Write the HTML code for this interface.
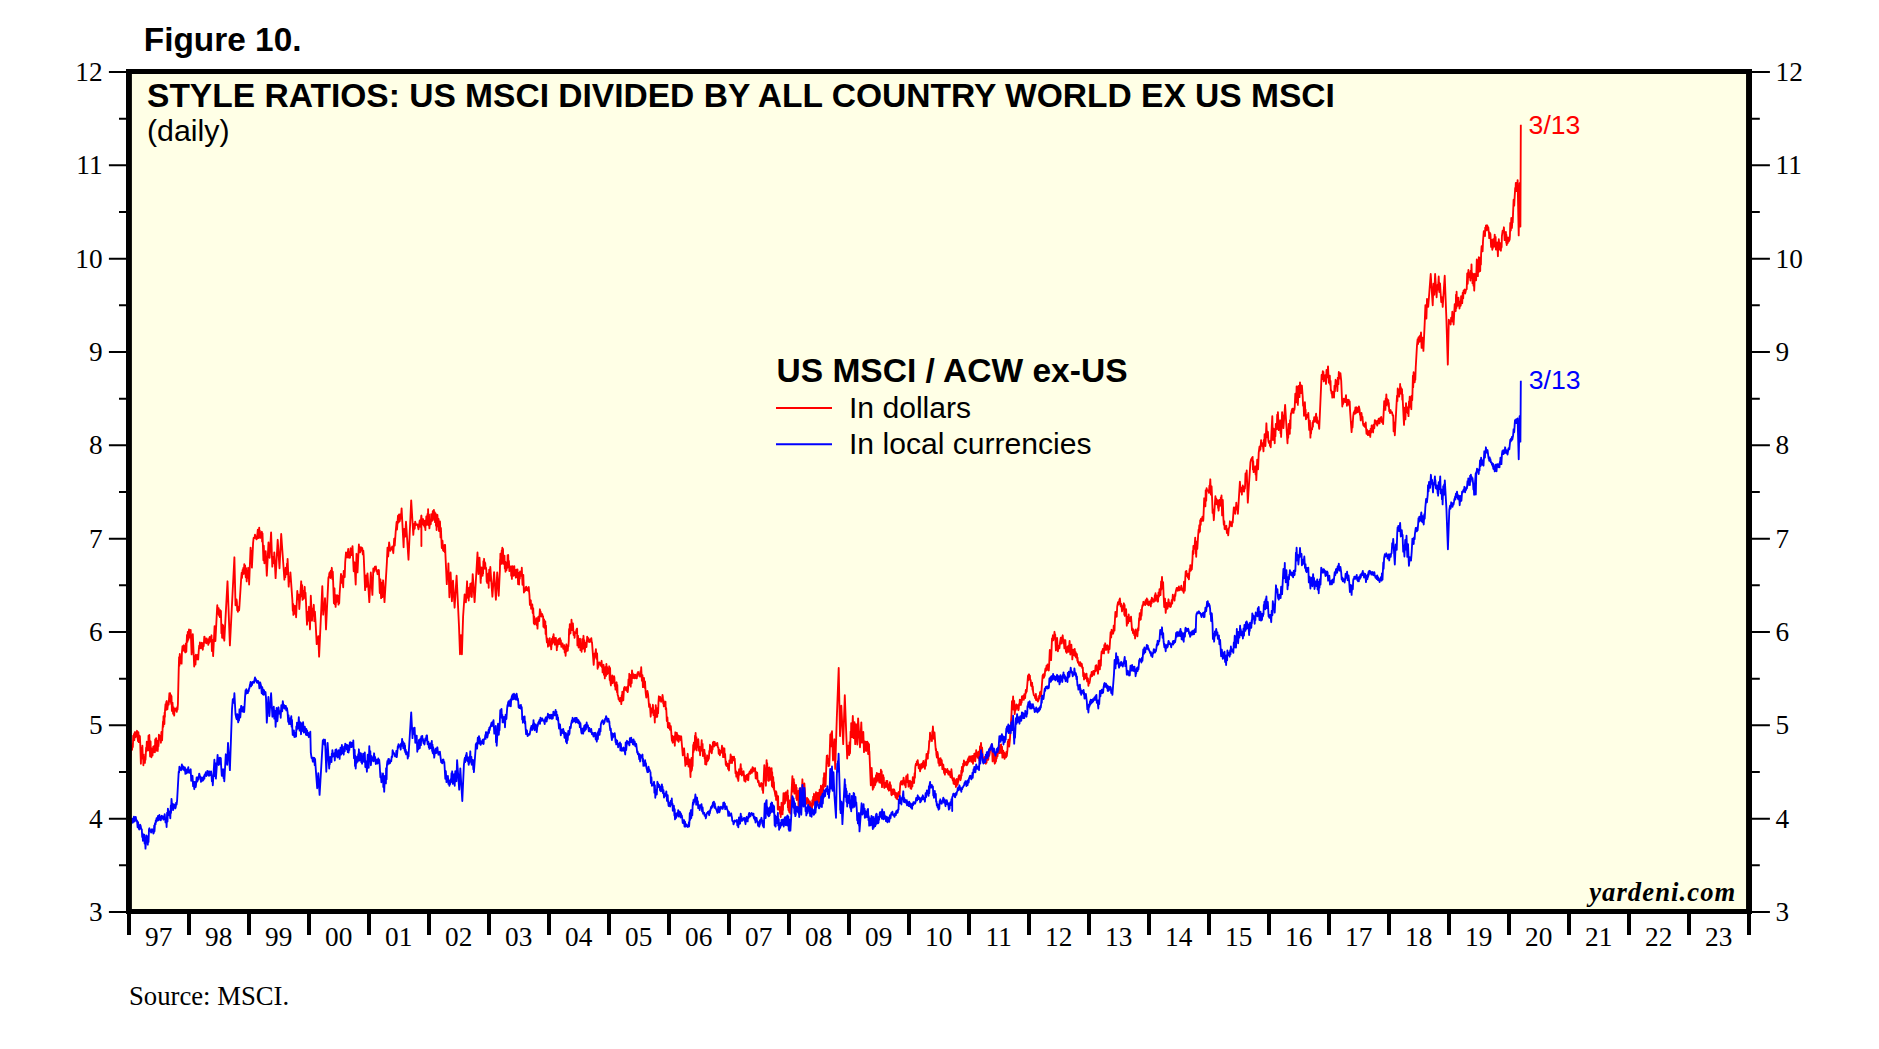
<!DOCTYPE html>
<html><head><meta charset="utf-8"><title>Figure 10</title>
<style>
html,body{margin:0;padding:0;background:#fff;}
body{width:1879px;height:1049px;overflow:hidden;}
svg{display:block;}
.ser{font-family:"Liberation Serif",serif;font-size:27.3px;fill:#000;}
.san{font-family:"Liberation Sans",sans-serif;fill:#000;}
</style></head><body>
<svg width="1879" height="1049" viewBox="0 0 1879 1049">
<rect x="0" y="0" width="1879" height="1049" fill="#ffffff"/>
<rect x="129" y="71.5" width="1620" height="840" fill="#ffffe6"/>
<path fill="none" stroke="#ff0000" stroke-width="1.85" stroke-linejoin="round" d="M129.0 778.9l1.6-24.8l.2-5.8l.4 1.5l.3-3.9l.2 3.2l.3-2l.1 2.7l.3-5.8l.4 3.1l.2-4.2l.2-7.2l.5 4.6l.3-6.3l.3 6.2l.5-8.1l.6 5.2l.4-5l.7 1.9l.5-3.4l.4 6.8l.3 .8l.3 2.8l.4-9l.4 9.9l.5-6.7l.3 2.4l.3-1.6l.3 6.7l.7 20.8l.5-15.5l.7 10l.3-12.5l.4 12.9l.3-4.1l.3 10.8l.2-5.6l.1 2.8l.3-5.7l.3 5.7l.2-3.9l.4 4.3l.3-8.5l.3 5.3l.3-5.6l.3-6.4l.3 3.5l.4-9.6l.3 7.7l.6-5.7l.5 6.8l.3-14.7l.6 10.5l.2-11.3l.8 21.5l.2-11.7l.1 10.8l.2-14l.2 14.1l.3-7.4l.3 9.1l.6-8.5l.5 6.8l.7-8.9l.7 5.4l.5-6.3l.5 6.5l.3-12.8l.5 10.6l.5-12l.5 12.6l.2-5.9l.3 0l.2-4l.4 10.1l.3-10.3l.5 5.3l.3-11.3l.7 4.9l.8-3.5l.5 6.7l.5-10.7l.7 8.3l.5-11.9l.4-6.9l.3 5.3l.2-10.5l.3 7.5l.3-4.5l.3 4.7l.2-11.4l.3 4.5l.1-6.5l.5-6.4l.4 5.8l.4-8.1l.5-.9l.6 8.3l.3-2.8l.4-3.3l.6 1.4l.3-5.2l.4-6.1l.4 3.8l.3-4l.2 7.6l.3-5.9l.1 7.2l.3-6.9l.2 8.8l.3-7.7l.4 14.7l.2-5.4l.2 2l.2-4.9l.6 11.2l.4-6.7l.7 8.5l.4-6.7l.8-.4l.8 2.1l.6 1.2l.3-4.5l.4 2.5l.4-5.6l.8-33.7l.4-13.4l.3 8.6l.4-11.7l.4 5.5l.6-1.7l.2 5.5l.3-5.4l.3 5.7l.3-10.7l.6-6.8l.8 4.4l.5-5.2l.4 5.5l.5-2l.5 3.7l.6-9l.5 8.3l.4-10.1l.3-6.8l.5 6.9l.3-9.9l.5 8l.7-10.4l.4 8.2l.4-7.2l.4 3.8l.5-4.3l.9 24.4l1.2-20.3l1.4 32.4l.7-10.3l.6 8.3l.4-9.8l.3 1.2l.4 3.3l.4 .1l.5-4.3l.7 4.5l.5-8.2l.5-5.6l.4 2.4l.3-5.6l.9 5.8l1-5.5l1 7l.4-6.8l.5 3.3l.6-9.7l.4 .5l.2 2.9l.3 2.4l.4-3.3l.7 4.2l.4-4.9l.5 4.4l.7-2.6l.4 4.7l.4-5.6l.3 3.8l.3-4.8l.4-1.4l.2 4.1l.5 .6l.2-4.2l.5 2.2l.4-4.3l.4 15.7l.2-8.5l.2 7.2l.2-9.8l.1 9.1l.3-3.5l.2 10.6l1.5-30l.3 8.8l.2-5.8l.3 11.9l1.7-32.9l.2-2.9l.4 5.2l.2-1.9l.4 5.3l.4-5.6l.4 7.4l.4-4.4l.4 5.9l.3-7l.2 6l.5-5.2l.2 7.2l.3 15.1l.4-9l.3 13.5l.4-13l.4 12.1l.2-11.3l.3 13.1l.5-10.5l.4 12.5l3.2-59.3l2.4 64.1l4.5-88.1l1.1 48l.5-2.5l.5-3.4l.4 2.8l.3 8l.4-3.7l.3 5.3l.4-4.1l.8 2.7l.4-5.1l1.6-25.6l.6-7l.3 5.3l.6-8l.4 4.1l.3-6.2l.5 6l.5-9.8l.3 6l.5-4.8l.6 12l.4-9.2l.6 13.3l.6-10.7l.6 7.2l.3-10.1l.2 9.8l.4-4.9l.3 11.8l1.5-36.9l.5 13.5l.5-10.2l.3 16.7l1.2-24.7l.5-4.9l.9 .1l.5-3.5l.6 2.5l.8 2.2l.5-.5l.9-9l.5 8.3l.9-10.5l.3 6.2l.3-3.2l.4 7.4l.4-5.5l.7 4.4l.6-5.1l.2 9.7l.4-8.2l.3 9.6l.6 17.3l.4-14.5l.6 17.6l.3-7l.6 2.4l.4-7.5l1.1 24.5l1.7-33.3l.3 12.2l.5-7.7l.3 10.9l1.5-25.4l1.2 34.2l.5-9.6l1.1 6.2l.4-10.8l1.3 25.7l2.1-38.3l1.8 28.5l1.7-34.3l3.2 45.7l.5-7.1l.4 4.6l.3-9.4l.4 4.4l.3-1.9l.3 4l.4-10.7l.2 5.9l.4-10.6l1.1 27.7l.6-9.7l.7 4.4l.4-8.9l2 28.1l.4 10.1l.4-6.6l.2 10.9l.4-5.6l.7 3.4l.5-6.9l.3 8.2l.5-3.3l.3 6.6l1.2-26.3l.7 8.2l.8-4.5l.5 14.3l1.9-27.7l.5 15l.5-11.1l.3 14.7l.8-9l.5 7.8l.9-11.9l.4 9.5l.4-3.6l.5 9.4l1 22.6l.8-12.7l.6 8.7l.6-13.9l1 22.6l.8-33.7l1.2 24.9l.5-11.8l.6 6.9l.7-10.9l.5 16.4l.6-9.6l.7 11.3l1.1 21.2l.4-6.5l.7 4.1l.5-5.6l.8 20.5l3.2-70.5l.9 28.5l.6-9.1l.5 3.9l.7-11.2l1 31.2l2.4-51.3l.6-2.1l.4-2.8l.5-1.1l.5 5.9l.4-7.3l.5 6.4l.5-9.3l.5 11.2l.5-7.3l1.1 31.5l.2-10.7l.2 6.7l.2-10.9l.3 16l.6-9.3l.2 11.9l.5-6.7l.4 2l.6-7l.5 5.9l.5-5.2l.4 8.7l.3-6.9l.4 5.6l.4-9.2l1.4-20.2l.7 9l.6-6.8l.9 11.2l.5-16.4l1 6.3l.5-15.1l.8-9.7l1.2 5.1l1-8.5l.7 8.6l.6-5l.5 5.2l.6-9.5l.9 6.9l1-9.1l1.2 25.2l.2-7.4l.4 3.7l.2-5.3l1.2 22.2l.8-30.7l.4 11.7l.2-8.5l.4 15.4l1.4-27.9l.3 6.2l.5-4l.3 5.7l.6-1.5l.8-3.4l.9 .8l.5 6l.5-3.7l.4 5.1l1.4 34.4l.9-14.6l.8 11.2l.7-13.3l1.8 28.7l1.5-29.6l1.6 22.4l.9-26.4l.5 3.5l1.1-5.2l.6 1.7l.4-2l.4 4.5l.6-.3l.7 3.5l.6-4.2l.7 .1l.9 22.9l.6-13.7l.7 18.9l.7-15.4l.5 14.3l.8-16.8l1.4 21.8l2.4-40l.6-14.5l.7 8.9l.9-14l1.2 8.4l2-4.4l1 6.7l.9-14.6l.5 7.1l1-14.1l.9-9.6l.4 7.6l1-13.9l.6 6.8l.5-8.1l.7 6.8l.7-7l.4 4.3l.7-10.1l2 38.8l.6-18.3l.9 7.9l.9-15.1l2.5 38l2.7-59.3l2.1 34.5l.8-11l.6 4.9l.5-7.2l.8 3.4l1.5-.6l1 5l1.2-8.9l.8 6.3l.8-11.2l.1 30.5l0-30.5l.4 6l.4-2.8l.4 5.6l.6-5.3l.5 6.2l.4-4.7l.4 6.2l.4-2.9l.5 6.1l.2-9.6l.4 4.8l.3-8.7l.2 6.7l.4-5.3l.4 6.7l.2-10.7l.4 8.4l.2-13.1l.4 16l.5-10.8l.4 14l.7-8.4l.7 4.3l.4-10.1l.4 6.1l.3-4.9l.4 5.3l.5-9.6l.4 3.1l.7-4.2l.4 9.9l.2-8l.5 10.2l.1-9.2l.2 7.5l.3-7.1l.4 12.3l.4-9.4l.2 13.8l.4-9.8l.1 6.2l.3-11.6l.7 11.6l.5-7.4l.4 12l.4-6.8l.2 6.1l.4-8.8l.5 15.9l.4-9.5l.5 11.8l.4 8.3l.7-7.3l.5 9.4l.6 1l.4-4.9l.5-1.2l.3 7.1l.3-7.2l.3 9.2l1.4 30l.6-11.6l.4 5.4l.6-14.5l1 33.9l1.2-24.8l1.3 28.7l1.1-20.6l1.6 27.1l2-32l2.4 50.5l1 28l.3-16.7l.3 12.8l.3-15.2l.3 12.8l.5-8.7l.2 15l1.2-37.7l1.5-22l.5 5.9l.4-.4l.4 2.4l1.2-21.1l.4 16.4l.2-3.6l.3-.7l.2-3.6l.5 10.7l.4-12.9l.6 9l.6-12.8l.3 8.1l.8-8.7l.4 13.8l.9-22.9l1.9 28l1.7-28.8l1.2-20.8l.9 21.5l.4-7.2l.3-.4l.4-8.8l1.2 25.3l.2-12.9l.1 8.7l.3-11.3l.3 8.4l.5-6.3l.5 6.2l.2-8.2l.3 6.1l.3-12.3l.3 6.4l.4-8.9l.2 7.3l.3-4.3l.4 6.9l.2-5.9l.3 4.4l.5 .4l.3 2.5l.4 11.7l.2-8.4l.3 9.5l.2-4.7l.5 4.2l.2-6.2l.2 7.4l.2-4.3l.2 8.4l.1-14.7l.2 8l.2-11.4l.2 3.5l.2-1.8l.1 9.4l.2-10.7l.2 9.2l.2-12.3l2.1 29.8l1.7-24.6l1.8 27.6l1.3-27.3l1.5 23.4l1.2-25.7l.2-10.4l.1 5l.2-11.1l.3 8.6l.4-5.2l.4 6.8l.2-13.4l.4 7.5l.2-10.2l.4 10.3l.3-9.2l.4 15.1l.4-7.1l.3 4.7l.4-5.9l.3 13l.4-7l.3 10.1l.2-4l.3 .8l.3-5.9l.2 7.6l.6-8.1l.3 5.7l.2-12.6l.3 10.1l.3-10.4l.3 12.1l.4-6l.5 10.1l.4-3l.8-1l.4-.8l.2 9.4l.4-5.9l.3 9.1l.2-7.1l.2 3.4l.2-9.1l.3 7.9l.5-2.9l.3 4.7l.2-7.9l.3 2.8l.2-4.6l.4 8.9l.6-4.8l.5 7.4l.6-8l.4 7.5l.7-7.6l.6 14.6l.5-11.1l.5 11.5l.2-10l.5 4.3l.3-7.4l.9 4.5l.3-4.4l.3 3.5l.2-7.3l.7 17.1l.8-9.9l.6 17.6l.8-2.1l.6 .4l.4-3.4l.5-.6l.6 3.3l.7-.5l.5 1.1l.3-3.2l.4-.6l.8 8.8l.4 9.2l.9-4.6l.3 8.5l.5-1l.3-1.1l.4-2.2l.4 8.5l.5-4.9l.3 6.8l.3 8.4l.4-6.8l.3 7.9l.4-2.8l.6 1.9l.8-5.3l.3 6.8l.6-1.9l.3 5.5l.6-11.3l.3-.6l.5 2.4l.3 1.9l.7-11.7l.5 5.4l.2-3.2l.4 3.2l.3 1.9l.3-3l.3 .3l.4 .5l.5 2.4l.3-.3l.3 10.3l.7-7.5l.3 8.5l.3-3.5l.4 1.7l.2-4.7l.3 12.7l.4-8.4l.3 10.2l.6 6.6l.7-3.8l.4 8.1l.6-5.4l.6 3.5l.6-6.6l.5 8.1l.3-4.8l.6 7.9l.8-10.8l.6 5.2l.4-7.4l.3 3.8l.3-6l.4 7.9l.6-4.3l.3 6.9l.2-5.9l.5 5.1l.3-6l.3 5.9l.3-.6l.3 7l.2-7l.4 3.8l.3-6.7l.3 4.3l.6-5.3l.3 4.9l.4-5.4l.4 3.3l.3-3.9l.4 6.1l.4-4.2l.6 6.7l1.1-3.3l.8 5.4l1-3.7l.4 7.3l.5-5.5l.4 8.8l.3-6l.3 2l.2-7.5l.4 4.7l.4-2.2l.6 4l.3-4.9l.3 .6l.4-5.9l.3-11.7l.4 5.5l.3-10.2l.7 9l.4-8.7l.3 4.7l.3-9.5l.6 10.3l.8-6.6l.7 11.6l.5-3l.5 5.8l.4-5l.8 .2l.5-2.7l.4-1.2l.4-.5l.3 16.8l.6-9.7l.6 11.8l.5-6.3l.5 2.2l.4-4.8l.4 11.5l.8-5.7l.4 7.4l.6-12.7l.7 9.7l.6-13l.5 10.2l.3-5.9l.5 11.7l.7-9l.3 1.6l.3 1l.4 1.6l.7-10.4l.5 4.7l.7-3.2l.7 3.9l.8-.1l.4-2.4l.6-.4l.4-.9l.5 4.7l.2-.5l1.7 22.5l.7-11.3l.6 3.3l.9-7.8l.5 9.6l.7-5.2l.5 15.3l.3-5.4l.4 3.7l.3-4.4l.8-.3l.6 1.4l.7 1.9l.3-2.4l.2 .2l.4-2.7l.4 6.4l.3-2l.3 7.2l.3-7.1l.4 5.7l.3-6.2l.3 10l.6-5.5l.3 9.1l.4-11.3l.8 8.8l.4-11.9l.4 9.4l.3-6.4l.2 7.2l.5-5.3l.7 4.1l.7-6.7l.5 13.7l.4-12.1l.3 13.7l.5 3.9l.3-6.8l.4 2.3l.6-5.5l.5 7.7l.5-6.2l.4 1.4l.4-2.3l.4 1.5l.4 8.3l.3-3l.4 6.7l.4-5.4l.3 4.1l.4-6l.4 9.9l.3-7.4l.3 9.7l.4 1.5l.2-.2l.4 3.7l.4-1.6l.7 3.4l.7-3.3l.2 1.5l.5 .6l.2 4l.4-8.8l.3 5.6l.3-9.2l.3 6.6l.3-.9l.4 3l.7-12.3l.6-1.1l.6 2.9l.4-2.5l.5 .7l.5 2.7l.4-.1l.3-4l.4 5.4l.3-2.4l.5-10.3l.5 5.7l.3-11.3l.6 9.7l.3-6l.5 9.1l.5-12l.5 8.4l.3-12.6l.5 5.1l.2-2.1l.4 4.6l.9-3.4l.6 3.8l.7-3.6l.5 .2l.5 3.3l.5 .1l.6-5.1l.2 3.1l.5-4.5l.6 2.5l.8-.7l.5 3l.4-5.5l.4 4.4l.4-8.4l.7 13.5l.6-5.5l.4 11.9l.3-4.8l.5 2l.3-6.3l.7 9.8l.3-6.4l.7 11.5l.6 4.7l.3-4.9l.5 3.7l.3-5.4l.7 3.5l1 12.3l.8-2.4l.8 12.3l.6-8.2l.8 4.1l.8-7.8l.6 10.3l.8-3.3l.5 10.7l.2-12.2l.5 7.2l.2-12.3l.6 5.8l.4-.8l.5 6.7l.5-8.9l.4 5.1l.4-11.4l.4-5.4l.2 4.7l.4-2.9l.6-1.2l1 4.9l.6-2.5l.3 0l.5-4.3l.3 1.9l.4 6.6l.3-3.3l.3 6.2l.6-4.1l.7 3.7l.4-4.4l.2 7.7l.5-1.1l.3 5.5l.3 7.3l.6-3.7l.5 10.1l.6-4.5l.5 5.2l.6-4.9l.4 6.5l.8-3.6l.5 6.8l.6 7.8l.3-5l.5 7l.5-4.3l.4 1.5l.4-3.4l.8 9.2l.5-13.4l.3 3.1l.4-2.8l.2 6.6l.7-6.3l.4 7.7l.8-5.3l.6 6.5l.3-5.9l.6 3.6l.4-3.4l.7 4.1l.5-3.9l.5 6.2l1.1 12.9l1.3-7.1l1.3 17.6l.5-8.3l1.1 6.5l.7-10.3l.8 12.7l1.1-7l.9 17.5l.3-12.7l.4 7.2l.3-13.6l.5 12l.3-8.8l.3 5l.3-12.4l.3-8.7l.3 7l.3-9.3l.8 7.1l.4-14.1l.4 8.5l.2-11.3l.5 15.6l.3-11.4l.3 13.3l.3-7.7l.9 4.2l.4-7.7l.7 11.6l.7-3.9l.4 8.4l.4-8.2l.7 .6l.5-7.6l.3 10.6l.6-6.9l.3 12.3l.4-4.4l.6 1.5l.5-3.4l.2 8.6l.3-5.2l.3 10.9l.5-6.3l.6 6.9l.5-5.1l.3-4.3l.5 5.8l.4-.6l.2-.6l.3-.7l.4-.7l.4-7.6l.4 1.8l.3-7.9l.5 6.3l.8-4.7l.5 6.9l.4-6.1l.4 2.3l.3-7l.6-.8l.5 4.8l.7-4.6l.7 3.4l.6 .1l.4-1.6l.6-.6l.3-.3l.5 4.3l.5 .1l.4 6.5l.6-4.1l.6 5.6l.8-4.4l.7 1.6l.6-6.8l.4 7.1l.3-5.4l.4 9.7l.3-4.8l.5 2.2l.5-6.1l.3 8.9l.4-3.5l.4 6.3l.3 4.7l.3-3.4l.4 4.4l.5 .3l.4-2.4l.3 .1l.4 5.1l.5-2.5l.4 4.1l.4-10l.7 2.7l.5-8.7l.4 4.1l.5-2.3l.5 6.8l.5-6.2l1.1 3.5l.4-3.8l.4 3.4l.3-1.4l.4 6.3l.4 8.2l.5-2l.3 5.5l.3-3.2l.3 1.4l.3-2.5l.4 6.3l.4-5.3l.3 7.6l.8-11.6l.7 5.2l.9-10.4l.4 9.9l.4-5.5l.3 7l.6-1.2l.6-2.3l.6-.8l.7 9.6l.6-5.1l.6 6l.4-4.2l.6 1.2l.3-3.8l.7 4.8l.5-5.5l.3 6.1l.4-5.8l1-3l.6 2.3l.8-4.4l.8 3.4l.7-5.7l.4 4.4l.7-3.2l.5 2.6l.9-2.8l.6 10.3l.3-3.7l.3 1.4l.3-3.9l.2 6.5l.4-6l.3 6.6l.6 2.9l.5-1.4l.7 4.7l.8 1.1l1.1-3.6l.6 .7l.6 6.2l.4-3.8l.3 6.8l1.2-27.8l1.6 20.6l.7-25.6l.3 14l.3-10.9l.3 10.6l.4-6.3l.2 13.1l.4-10.3l.2 10.6l.3-8.8l.3 7.8l.2-12.5l.3 9.9l.4-7.4l.4 9.8l.3-11.1l.5 6.8l.2-7.3l.3 17.9l.3-13.7l.4 14.7l.2-7.7l.3 3.8l.1-6.1l.5 12l.2-6.8l.4 8.3l.5 1.5l.4 2.7l.4 1.9l.2-5.5l.3 8.8l.2-8l.4 3.1l.4 1.1l.4 2.4l.3 11.1l.3-13.3l.3 13.2l.4-.1l.6 .3l.3-2.8l.3 6.9l.4-4.7l.3 7.9l.3-7.2l.2 4.2l.3-11.2l.3 7.4l.5-5.7l.3 9.8l.1-6.1l.3 2.1l.1-7l.4-10.2l.5 10.9l.6-9.8l.4 8.8l.3-10.3l.5 8.1l.4-8.5l.7 6.1l.7-7.9l.3 17l.2-11.7l.3 14.3l.4-7.2l.4 9.1l.3-11.5l.2 9.3l.4-7.7l.3 11.6l2-37.6l.2 11.3l.2-7.1l.2 11.2l.3-8.2l.2 2.8l.3-6.9l.2 11.3l.2-8l.2 11.2l.1-7.9l.2 6.1l.2-6.1l.2 2.9l.2 3l.3-.7l.4-6.1l.3 13.3l.3-10.5l.2 12.3l.5-5.4l.4 1.6l.6-5.3l.2 15.8l.4-8.7l.3 10.1l.3-19.3l.3 17.3l.3-17.9l.4 10.2l.5-5.8l.4 11.7l1-25l.7 20.5l.4-10l.6 6.7l.3-13l1.2 20.6l.2 .1l.3-4.8l.2 2.6l.4 1.2l.4-5.3l.3 3.1l.3-1.2l.4-.8l.2 .3l.3 6.5l.6-4.7l.3 6.1l.4-5.8l.7 8.8l.3-6.9l.3 4l.5-.5l.3 2.1l.3-8.8l.4 5.5l.5-9l.4 7.7l.4-10.5l.3 9.2l.5-7.4l.8 7.3l.4-10.8l.2 7.6l.2-6.4l.2 8.1l.3-6.3l.5 6.3l.3-8.4l.2 8.1l.2-4.9l.3 5.5l.2-4.5l.1 1.5l.2-6.1l.4 11.4l.3-14.2l.3 9.9l.4-9.3l.3 7.5l.2-8.2l.1-4.1l.3 10.6l.1-3.3l.3-6.1l.3 8.4l.3-7.9l.4 6.4l.3-9.2l.3 6l.3-12.5l.3 9.2l.3-14l.5 10.8l.6-10.6l.4 12.9l.8-23l.4-7.5l.2 7.2l.4-7.6l.3 6.6l.4-1.9l.4 6l.2-7.3l.6 6.8l.3-8.7l.7-22.5l.4 7.5l.3-5.1l.3 9.6l.2-13.7l.3 9.2l.2-10.6l1 29.1l1.4-21.1l.8 29.6l1.6-50.5l1.9-50.4l1.3 68.1l1.3-30.5l1.9 38.5l1.6-48.9l2.4 63.3l.3-7.6l.2 3.8l.3-8.9l.5 5.8l.4-1.4l.3 4.8l.4-12.9l.4 11.2l.4-12.4l.2-9.3l.4 4.5l.2-13l.2 13l.3-10.5l.3 11.5l.8-21.1l.8 22.1l.4-12.2l.2 11.8l.3-15.5l.7 21.9l.8-20l1.3 20.4l.8-26.1l1.9 28.9l1.3-24.9l.7 20.2l.4-9.1l.5 6.9l.4-8.4l.7 20.1l.5-10.6l.5 5.9l.3-5.7l.3 8.3l.3-5.3l.2 6.3l.3-8.7l.5 3.5l.3-4.1l.3 8.5l.4-7.8l.2 11.6l.2-8.6l.3 2.6l.4-3.9l.2 8.6l.2-1.2l.2 5.4l1.2 28.4l.3-10.1l.3 5.3l.3-12.5l1.1 21.7l.5-5.6l.5 3.5l.4-9.4l.4 .8l.4 6.3l.5-1.7l.5-8.4l.5 6.7l.3-9l.3 6.5l.3-4.2l.2 5.6l.2-6.3l.3 6.1l.2-6.8l.4 6.1l.2-4l.4 6.6l.3-8.6l.3 4l.2-3.5l.2 7.6l.6-12.3l.2 13.6l.6-12.1l.3 16l.4-9.4l.4 5l.4-7.6l.3 8l.3-5.7l.3 9.8l.3 .7l.4-4.3l.3-.6l.4-.1l.3 2.1l.3 1.9l.3-6.1l.5 2.1l.4-2.1l.6 8.1l.4-4.8l.5 6.4l.4-5.5l.3 2.6l.4-5.5l.5 8.2l.4-5.3l.5 9.4l.3 .7l.3-4.2l.3 2.3l.5-3.9l.3 4.8l.4-1.1l.2-.3l.4-3.5l.5 1.2l.4 4.3l.3-2.3l.3 4.8l.3-4.7l.6 5.9l.3-5l.7 5.8l.3-4.8l.3 1.5l.3-3.6l.4-.3l.4 4.2l.4-.4l.6-9.4l.3-3.6l.4 .4l.2-1.9l.7-.3l.4 3.5l.5-1.3l.4-2.8l.3 .3l.3-3.1l.8 7.1l.6-3.3l.7 5.8l.5-11.1l.8 5.8l.6-7.5l.3 7.9l.3-1.8l.3 6.1l.5-4.9l.6 1.9l.4-3l.5 7.6l.5-5.6l.3 6.2l.4-7.2l.7 4.8l.4-9.4l.5 4.6l.4-1.4l.4 2.7l.5-9.7l.3 4.3l.4-10.3l.2-1.5l.4-2l.3 .2l.4 1.1l.2-3.7l.3 2.7l.6-4l.4 4l.2-.8l.4 5l.6-3.7l.8 6.7l.4-4.8l.3 2.6l.4-5.2l.8 3.9l.8-5.3l.3 4.3l.3-5.8l.3 5.6l.4-1.8l.8 4.1l.6-9l.4 5.7l.6-11.6l.5 3l.4-1.5l.4 3.2l.3-7.5l.3 2.3l.5-6.2l.3-6.4l.5 .9l.3-9.1l.5 5.5l.6-1.6l.8 4.5l.4-9.8l.2 6l.4-10.8l.8 12.2l.8-6.2l.8 11.6l.5 6.2l.3-1.3l.3 5.6l.5 2.9l.5-5.5l.5 2.5l.5 8.4l.4-4.7l.5 7.5l.7-5.8l.3 5.2l.3-6.9l.4 5.7l.7-3.8l.7 9.1l.3-4.5l.3-.3l.3 .3l.8 8.2l.4-4.3l.4 6l.3-5.7l.4 2l.6-.2l.3 1.4l.8-3.2l.4 4.1l.3-2.7l.4 4.3l.7 .1l.5-3.2l.4 .3l.4 5.2l.6-1.8l.3 2.5l.1-8.4l.8 8l.6 3.4l.4-1.3l.4 4.2l.4-5.4l.3 5.8l.4-3.4l.4 3.8l.4-3.8l.4 6.4l.2-7.6l.5 6.5l.2-7l.3 3l.3-1.9l.3 4.5l.4-4.6l.2 2.1l.3-5.5l.6-1.4l.3 2l.4-.3l.5 3.4l.6-2.1l.3-7.5l.3 4.9l.3-8.6l.4 5.8l.3-4.8l.3 3.4l.2-7.5l.5 2.8l.3-6.1l.3 2.1l.3 .3l.3 2.1l.4-.3l.8-2.7l.4-.3l.4 3.7l.2-3.3l.4 2.4l.4-5.3l.4 3.6l.3-4.9l.4 2.8l.3-4.3l.2 4.9l.3-3.6l.3 .4l.3-1.6l.3 3.5l.4-1.9l.4 3.7l.7-5.9l.3 4.2l.3-2.1l.3 5.7l.3-7.7l.6 4.7l.4-7l.4 3.9l.3-1.5l.3 5.2l.2-8.2l.5 3l.2-6l.3 5.2l.7-2.6l.3 5l.3-4.7l.4 1.7l.3-3l.3 6.7l.3-3.8l.3 5.9l.6-14.2l.4 10.2l.6-13.6l.5 7.1l.6-2.4l.5 8.1l.4 6.2l.4-3.9l.5 5.1l.3-4l.4 .6l.2-2.8l.4 4.5l.3-4.4l.3 6.7l.4-6.9l.4 5.7l.3-7.3l.5 2.4l.5-1.2l.3 3.5l.6-5.4l.4 1.2l.7-3.2l.4-5.2l.8 1.7l.8-4.5l.7 16.9l.4-6.4l.5 3l.4-4.8l.8 10.5l.3-4.2l.3 3.4l.4-7.8l.3 6l.3-7.4l.3 4.9l.3-4.1l.6 1.8l.4-3.8l.3-2.3l.6-.7l.3-1.7l.5 5.3l.3-8l.4 4.8l.8-5.4l.4 8.6l.5-6.5l.4 11l.8-6.9l.4 6.6l.5-4.9l.5 6.5l.3-3.6l.2 2l.4-3.9l.5 3.9l.5-5.6l.3 4.5l.7-6.9l.3-7.5l.3 2.8l.3-5l.8 7l.7-6.9l1.6-25.6l.5-13l.7 5.2l.4-9.8l.4 13.1l.7-8.8l.5 13.3l.6-6.2l.4 2.2l.6-5.6l.8 4.1l.6-3.5l.4 .4l.3 4.7l.3-.9l.4-5.4l.4 1.2l.3-5.5l.5 3.1l.2-.7l.4 3l.3-5.2l.4 2.9l.3-6.2l.3-.1l.5 1.9l.2 1.4l.3-3.8l.6 4l.5-5.6l.8 3.8l.7-8.1l.2 3.2l.5-3.3l.2 1.9l.8-9.8l.5-6.3l.3 4.6l.3-5.6l.3 3.8l.2-4.2l.5 5.3l.3-4l.2 3.9l.6 .6l.3 5.2l.4 .8l.3-2.8l.4-.6l.4 7l.3-3.2l.3 5.1l.7 3.5l.7 .8l.3-.1l.3 2.4l.4-.1l.4-4.2l.1 6.2l.4-4l.4 2.7l.4 1.7l.5-.2l.2 1.2l.5-1.2l.3-.6l.5-4.1l.4 2.5l.4-5.8l.5 3.1l.2-4l.4 4.9l.8-11.1l.7-9.5l.5-1.2l.5 3.4l.4-.4l.4-4.1l.3 2.6l.4-5.4l.4-2.2l.6 2.3l.4-4.9l.6 3.8l.5-5.2l.5 5.6l.3-4.7l.4 5.2l.3-4.7l.7-15.8l.5 8.1l.3-4.3l.5 6.3l.9-21.6l.3 2.5l.6-5.7l.4 5l.8-4l.4-4.5l.4 5l.3-2.3l.7 15.9l.4-8.4l.4 5.1l.4-9.1l.8 13.3l.5-4.7l.3-.6l.3 2.4l.4 0l.6-5.9l.8-4.8l.4 5.9l.4-5.9l.3 3.2l.8-5.6l.6 8.1l.4-3.9l.7 8.9l.2-4.1l.4 1.1l.4-5.2l.5 11.4l.5-4.7l.3 6l.3-3.9l.4 1.6l.3-3.2l.3-1.3l.5 5.7l.3-1.8l.8-9.1l.7 13.6l.4-7.8l.4 6.2l.3-8.2l.4 8.9l.3-3.8l.2 9.6l.8-9.8l.3 4.7l.4-2.4l.2 3.1l.7-6.1l.5 7.3l.5-4.1l.3 5.4l.2-1.4l.3-1l.4-1.1l.4 6.8l.3-3.1l.3 4.9l.5-1l.7 3.2l.4 .8l.7-3.5l.9 4.2l.4-2.6l.3 .3l.5 4.1l.5-.7l.4 8.7l.5-3.4l.3 6.8l1.1-5.4l.5 4.3l.9-4.8l.6 7.8l.8-3.1l.5 7.5l.6-4.4l.5 1.6l.5-2.8l.6-5.2l.5 1.7l.5-4.7l.6 4.1l1.1-5.1l.8 3.9l.6-4.3l.4 .9l.5-5.7l.5 4.8l.3-5.4l.4 5l.3-3.1l.9 6.7l.7-13.1l.4 5.9l.4-1.8l.4 4.5l.4-9.4l.5 5.7l.4-9.4l.4-4.7l.6 1.8l.6-4.3l.5 4l.3-3.2l.4 3.7l.3-8.5l.4 5.4l.5-7.1l.4 5.4l.3-3.4l.5 4.6l.2-3.3l.5-.4l.3-.9l.3 3.1l.5-.2l.2 4.7l.5-6.8l.6 3.1l.5-7.5l.6-9.5l.6 5.3l.4-7.7l.6 1.7l.7 2.3l.5-1.2l.3-7l.8 5.1l.3-8.2l.6-10.6l.4 5.3l.3-2.9l.6 2.3l.5-10.1l.8-4.4l.4 .4l.2 2l.4-1.3l.4-3.5l.2 .3l.3-1.5l.8 7.9l.6-2.4l.7 7.3l.6-5l.6 2.9l.7-5.9l.4 11.3l.3-9.7l.2 11l.5-4.2l.5 2.6l.3-5.2l.7 16.6l.6-8.7l.6 6.4l.7-8.9l.3 3.9l.5-.2l.4 3.1l.3-3.7l.3 1.9l.5-2.8l.6 7.4l.4 6.2l.5-2l.5 4.9l.7-3.4l.6 5.6l.4-3.2l.4 6.3l.8-9l.5 4.6l.4-2.8l.6 5.1l.6-8.3l.4 2.4l.4-6.4l.3-6l.4 2.4l.2-7.3l.4 4.8l.2-2l.5 3.5l.4-9.9l.3 6l.5-7.5l.5-3l.4 .7l.5-4l.5 .2l.9 1.9l.4 1.2l.4-4.8l.7 3.6l.5-5.4l.3 4l.4-3l.4 5.3l.6-2.7l.2 3.2l.6-3.8l.4 2.9l.6-2l.5 4.1l.3-6.6l.5 3.5l.2-5.6l.7 .8l.6 2.7l.7 .6l.3-2.5l.4 .2l.3-4.3l.4 5.5l.3-7.6l.4 6.5l.4-1.4l.3-2.5l.4 0l.3 5.4l.4-3l.3 3.5l.5-9.2l.5 4.2l.5-7.6l.3 5.3l.4-3.4l.3 4l.6-13.6l.3 8.1l.6-12.6l.5 11.1l.6-5.9l.5 13.2l.6 11.7l.8-8.3l.7 14.2l.8-9.9l.4 4.8l.4-4.1l.2 5l.4-4.6l.2-.6l.4-4.2l.8 7.3l.6-3.4l.2 .7l.4 3.1l.4-.5l.8-6.5l.5 3.7l.6-9l.5 3.1l.7-.6l.5 3.5l.5-6.5l.3 2l.4-4.1l.4-1.9l.6-2.3l.6 .3l.5 2.7l1.1-4.5l.5 3.9l.6-1.9l.6 1.3l.7-4l.3 1.8l.3 .5l.3 2.5l.8-1.5l.7 3.9l.3-11.1l.8 8.9l.5-13l.4-6.3l.4 4.7l.3-5.2l.4 5l.7-1l.4 2.8l.5-4l.5 5.7l.4-5.7l.3-4.7l.4 2.1l.3-6l.6 5.6l.4-4.2l.5 2.9l.7-11l.3-7.5l.3 3.4l.3-8.4l.2 .1l.5 2.9l.4-1.2l.7-10.1l.3 15.9l.3-9.3l.4 12.6l.5-15.1l.6 7.3l.8-13l.5-6.4l.2 3.4l.5-7.8l.6 6.3l.3-11.2l.5 4.7l.3-6.4l.7 2.5l.7-4.3l.4 1.3l.4 2.7l.2-2.2l.8-20.3l.4 6.5l.4-3.3l.4 4.8l.3-16.1l.5 10.4l.4-12.5l.3 1.8l.4 .6l.3-.1l.7 .1l.7 2.4l.4-7.2l.4 1.4l.5-7.8l.6 15.3l.7-8.1l.6 14.5l.4 11.9l.6-3.5l.6 10.8l1.6-24l.5 7.7l.3-5.6l.3 6l.3-2.7l.5 1.1l.4-2.6l.4 7.8l.2-5l.3 7.7l.9-10.6l.4 3.3l.3-3l.4 5.4l.2-8.2l.5 7.4l.2-9.5l.6 20l.7-15.4l.6 18.6l.4 6l.5-3.4l.3 7.7l.6 .4l.6-2.9l.5-.7l.6 7.3l.7-3.6l.6 6l.6-6.9l.7-1.9l.4-5.3l.4 4.3l1-3.2l.6 4l.3-5l.5 1.3l.4-5.7l.7-9.5l.3 1.7l.6 1.9l.6 2.7l.3-6.9l.3 3.1l.4-7.4l.4 6.6l.8-2.7l.4 7.3l2-32.1l.6 9.8l.8-3.7l.6 6.8l.2-7.2l.4 3.7l.3-5.6l.5 5.5l.4-3.5l.4 4.1l.4-4.8l.4 1.8l.2-3.7l.4-11.4l.6 6.7l.6-9.7l1.1 32.1l2.6-40.1l.6-2.8l.9-1.7l.7-1.1l.3 12.6l.3-8.2l.4 10.9l.4-1.9l.9-.3l.4-3.7l.3 8.1l.4-4.3l.3 10l.9-20.5l.9 9.7l.6-16.4l.8-6.3l.2 4l.3-4.5l.4 3.4l.7-9.4l.2 2.6l.5 .6l.2 2.5l.7-2.5l.8 8l.3-11.3l.4 5.4l.4-11.3l.8 11.9l1-22.7l.6 14l.9-5.5l.4 8.3l.3 1.9l.3 .8l.3 .5l.5-2.2l.2 4.7l.5-3.8l.3 5.3l1.6-31.2l.6 24l.2-7.7l.4 2.8l.3-6.5l.3 10l.2-7.2l.4 11.8l.3-13.8l.4 6.7l.4-12.3l.2 3.6l.5-1.8l.3 3.5l.4-14.5l.3 9l.4-11.6l.8 18l.5-5.3l.5 1.7l.5-6.2l.3 12.9l.2-9.9l.4 13.6l1-24.8l.5 9.5l.3-6.3l.5 12.9l1.7-23.3l2.4 38.4l.3-11.4l.4 5.9l.5-13.9l.4 8.4l.4-5.4l.3 6.9l.2-13.7l.4 8.4l.3-12.4l.3-3l.4 .7l.2-3l.8-2.2l.7 4.1l.5 .2l.3-4.4l.5 1.3l.3-2.5l.6-13.6l.9 8.6l.4-15.9l.5 11.5l.4-5.6l.4 12.6l.6-19l.4 8.5l.4-5l.2 7.8l.5-14.8l.3 8.9l.3-6.4l.4 8.1l.3-5l.2 1.7l.4-4.1l.8 11.2l.4 8.8l.5-2.3l.4 12.5l.3-8.3l.4 6l.2-11.2l.4 9.5l.3-2.1l.3 9.6l.3-.4l.3-4.2l.4 .5l.7 2l.7-4.3l.9 17l.7-9.3l.5 17.1l.2-5.3l.4 1.2l.4-5.4l.7 1.2l.4-6.8l.4 4l.2-5.7l.8-.6l.3-3.1l.5 4.6l.4-4.1l.4 .6l.6-4.6l.2 3.2l.3 5.3l.3-5.1l.3 5.8l.4-2.4l.4 3l.4-1.6l.8 7l2-44.9l.4-9l.6 4.2l.6-8l.2 6.4l.4-5.7l.3 9.5l.5-5.7l.6 4.6l.3-5.1l.9 8.8l.5-14l.4 5.4l.2-2.8l.3 4.8l.6-11l.8 16.3l.4-4.5l.3 3.4l.3-5.9l.3 9.1l.4-4l.3 9.6l.4-.2l.4 3.5l.4 .1l.3 3.8l.5-5.6l.3 3.3l.2 1.4l.4-.2l.3 1.1l.5-11.8l.4 5.6l.7-11.6l.6 6l.5-4.3l.7 9.5l.4-13.4l.6 6.5l.4-12.1l.6 6.7l.4-2.6l.2 1.3l.4-4.3l.8 7.7l1.1 25.7l.4-5.9l.5 3.4l.6-5.4l.3 .7l.6 .7l.4 2.1l.9-6.9l.3 6.8l.4-.9l.2 4.7l.6-6l.8 4.3l.5-4.3l.4 5.7l.5-4l.3 8.2l1.6 22.4l.6-10.5l.3 5.8l.7-11.3l.6-3.9l.5 1.7l.4-3.5l.3 3.4l.4-6.4l.4 6l.3-2.8l.3 1.6l.3-4.9l.3 2.8l.5-.2l.3 2.5l.4-4.5l.4 3.2l.3-4.6l.7 3.2l.3 4.9l.3-.7l.5 6.5l.2-4.3l.3 1.5l.3-4.6l.5 5.5l.5-1.5l.3 4.7l.2 1.8l.3 1.6l.4 .6l.3-1.8l.4 2.5l.3-2.1l.4 2.9l.6-4.8l.3 4.9l.5 6.4l.4-4.4l.5 4.8l.5 1l.6-4l.8-.1l.3 4.3l.5-3l.2 4.6l.3-8.1l.5 4l.5-7.3l.4 4.5l.5-2.2l.6 4.7l.4-7.7l.8 3.5l.5-8.2l.8 3l.3-2.3l.4 3.2l.3-2.7l.6 4.4l.6-5.2l.4 3.1l.5-5l.2 2.6l.3-2l.4 4.2l.6-5.4l.4 2.8l.6-3.9l.7 5.3l.5-2.1l.7 4l1.1-23l.5 7.5l.2-4.2l.5 5.5l.3-11.4l.4 7.1l.2-11.2l.4 7.5l.5-3.1l.2 5.9l.9-4.6l.2 6.3l.3-3.6l.4 8.5l.3-1.6l.5 3.4l.3-2l.3-.9l.5 2.5l.5-.3l.4-.1l.7 3.3l.5-.3l.4 16.1l.7-8.7l.5 12.6l1.6-28.8l.6-10.7l.4 5.3l.3-12.6l.7 5.5l.3-1.4l.5 4.1l.4-7.4l.2 4.9l.3-10.2l.2 5.1l.5-2l.3 5.9l.3-3.6l.4 4.4l.2-4.6l.3 10.5l.3-5.1l.2 7l1.2 23.3l.7-17.3l.7 11.8l.6-16.2l.8 8.9l.7-4.7l.3 5.9l.3-2.1l.4 4.9l.5-14.7l.2 6.4l.5-11.2l.4 9.6l.5-6l.7 9l.3-13.4l.6 4.5l.3-8.3l.4-16.3l.3 11.5l.4-14.9l.4 5.7l.3-3.9l.4 8.2l.2-8l.4 5.5l.4-11.8l0-.2l1.3-22.5l.6-6l.4 4.9l.5-6.8l.5 3.8l.4-4.7l.3 5.2l.4-6.2l.6 2.8l.3-5.8l.6 15.4l.3-7.6l.3 2.5l.3-5.1l.4 6.7l.3-2.3l.2 8.8l1.3-28l.7-17.8l.4 8.8l.2-3.8l.4 8.4l.6-19.6l.5 5.8l.4-4l.3 6.2l2.5-32.9l2 31.3l.8-21.7l.8 11.1l.8-20.7l1.5 23.3l.6-12.2l.7 4.6l.8-13.2l.6 15.5l.7-8.6l.7 10.7l.5 7.9l.9-4.7l.6 9.6l2-31.2l1.6 40.8l1.5 48.1l1-44.9l.6 2.3l.7-.6l.6 3.1l.4-6.8l.8 3.1l.4-9.1l.4 10l.4-5.6l.5 8.4l1.1-20.4l.3 6.4l.3-3.8l.4 4.3l.3-16.3l.4 13.3l.2-16.3l.3 11.9l.4-5.4l.4 7.6l.8-8.2l.4 6.9l.3-1.1l.3 5.1l.5-6.7l.7 4l.4-9.6l.4 5.7l.4-2.7l.3 4l.5-10.4l.5 5.5l.3-7.4l.7-.9l.4-.6l.5 4.1l.4-1.2l.3-1.9l.4-1l.5-.1l.5-15.9l.5 10.4l.7-13.8l.8 7.1l.6-3.5l.6 6.9l.3-9.8l.5 2.9l.3-9.2l.3 13.7l.5-4.9l.2 10.1l.7-9.4l.3 11.8l.4-7.8l.3 12.7l.7-16.8l.4 3l.5 .1l.3 3.4l.7-20.9l.4 9.8l.3-4.5l.4 11.5l.3-15.6l.4 11.7l.2-15l.6 7.9l.4-2.1l.4 7.9l.2-13.4l.5 6.9l.2-10.7l.5-7.6l.3 3.7l.4-1.4l.3 2.9l.4-10.4l.8-9.8l.3 3.4l.5-2.1l.4 3.6l.2-8.5l.4 2.9l.3-4.8l.6-.3l.3 4.9l.4-5l.4 2l.7 0l.4 4.8l.2 0l.3 6l.6-5.5l.4 5.4l.2-4.2l.3 5.6l.4 7.5l.6-7l.6 9.9l.4-7.6l.2 5.8l.3-8.9l.3 5.3l.4-1.6l.2 3.5l.6-11.7l.5 12.3l.4-9.9l.3 12.6l.3-5.1l.5 .9l.5-3l.7 13.8l.3-10.9l.4 4.7l.2-10.7l.8 10.1l.6-5.9l.7 7.2l.3-8.1l.4 4.8l.3-11.2l.7-5.4l.8 .7l.5-4.2l.7 12.8l.5-5.2l.5 1.8l.3-4.7l.3 10.8l.2-7.9l.3 10.1l.4-6.8l.5 5.2l.4-5.9l.4 4.2l.2-3.9l.3 3.7l.3-2.7l.4 1.1l.3-3.7l.4-13.3l.5 7.5l.5-12.4l.6 9.9l.5-8.3l.3 2.8l.4-10.3l.5-12.3l.6 6l.5-9.7l.5-8.2l.3 3.1l.3-8.1l.7 8.1l.3-8.2l.5 6.2l.3-8.9l1.1 55.3l.9-52.1l.8 43.2l.4-101.7"/>
<path fill="none" stroke="#0000ff" stroke-width="1.85" stroke-linejoin="round" d="M129.0 837.4l.6-14.2l.3 3.2l.2-2l.3 3.8l.3-5.1l.4 1.6l.3-5l.8-1l.5 4l.6-.9l.6-5.1l.6 4.8l.8-4.3l.5-.3l.5 3.9l.7-.3l.6 6.6l.5-5l.5 6l.6 1.4l.6-4.2l.4-.6l.5 1.4l.5 3.1l.6 .2l.4 7.6l.4-3.6l.3 7.4l.5-5.6l.4 4l.4-4.6l.4 8.9l.5-3.3l.4 8.4l.8-13.2l.5 6.3l.5-4.2l.5 7.1l.4-8.6l.3 6l.5-12.6l.4-1.1l.5 1.7l.4 0l.8 2.6l.9-3.5l.7 2.6l.2-1.7l.5 3.5l.4-.9l.4-7.1l.3 5.8l.5-8.1l.5 1.3l.3-4.1l.3 1.7l.5-4l.5 2.8l.9-4.9l.7 4.3l.7-5.3l1.4 5.3l1-4.5l.6 2.5l.5-1.9l.5 3.3l.4-3.5l.6 2.1l.3-4.2l.8 8.2l.6-3.7l.5 8.4l.5-14.2l.4 8.7l.4-12.9l.8 6.6l.8-3.7l.8 6.9l.5-12.9l.2 7.4l.5-14l.5 5.8l.5-.9l.6 6.3l.3-2.5l.4-.5l.3-2.8l.4 1l.8 3.1l.5-1.4l.3-4.3l.5 2l.5-4.2l1.6-28.8l.4 .7l.3-5.7l.4 1.5l.4-.3l.5 2.1l.4 .2l.8-5.7l.4 3.7l.4-2.2l.5 3.7l.5-2.7l.8 3.5l.4-3.1l.5 6.5l.8-4.4l.5 3.8l.3-3l.3 2l.4-2.3l.6-2.9l.4 5.2l.5 .5l.4-1.8l.7-.9l.4-.8l.5 11.5l.5-4.9l.3 2.2l.5-2.3l.6 10.3l.4-4.4l.8 7.5l.6-7.3l.4 2l.4 3.1l.3-1.8l.6-7.7l.8 4l.5-4.2l.6 2.3l.7-6l1 3.6l.3-.5l.5 5.1l.3-2.5l.7-1.6l.7 3.1l.8-1.1l.3-3.4l.6 2.4l.3-4.3l.6 1.3l.5-3.4l.6 3.8l.4-1.3l.5-3.8l.2 .7l.5 3.1l.6-3.3l.3 4.3l.4-.1l.4-4.2l.5 .9l.3 2.8l.6-3.7l.4 3.4l.4 6.3l.5-3.7l.4 7.8l1.6-25.6l.5 16.4l.6-12.6l.4 15.1l1.7-23.7l.4 6.6l.4-3.6l.4 7.1l.3-3.2l.5 .6l.3-4.7l.5 6.2l.4-5.8l.3 7.2l.7 10.5l.4-3.3l.5 3.2l.4-6.5l.5 8.9l.3-3.2l.4 6.4l1.5-27l.3 6.5l.7-5.2l.4 9.2l.8-21.9l1.9 27.2l2.1-60.9l.8-10.1l.3 0l.3 3.1l.4 .7l.6-9.7l1.1 20.8l.8 4l.4 1.2l.6-5l.3 2.2l.6 6l.5-7.7l.3 5.7l.5-11.1l.8 8.2l.8-11.5l.3 0l.4 3.5l.2 .4l.4 1.6l.6-4.3l.4 2.3l.3-2.5l.4 5.1l.2-1.3l.8-14.4l.5-6.2l.4 3.6l.4-4.7l.4 1.6l.6 2.3l.5 .1l.4-2.7l.4 .8l.4-3.1l.3 .2l.5-3.5l.3-.7l.4-2.2l.4 4.4l.5-1.1l.5-.2l.5-2.9l.6-.4l.9 1.1l.7-3.9l.3-1.5l.3 3.3l.2-2.2l.6 1.4l.7 2.7l.7 .1l.5-1.9l.3 2.5l.5-1.1l.6 6.2l.8-5.9l1 4l.5 6.7l.6-6l.5 7l.3-4.9l.6 5.6l.3-4.8l.5 4.2l1-2.3l.5 5.8l.8 24.8l1.6-25.7l.3 12l.3-2.7l.4 9.9l1.7-22.9l1.3 23.5l.5-8.7l.4 5.6l.5-6.9l.5 11.9l.8-7.8l.5 16l1-18.8l.8 13.3l1.1-14l.8 6.4l.9-2.4l.5 6.5l.6-12.6l.9 6.2l.6-10.2l.6 4.6l.5-1l.4 3.7l.4 0l.5-2.5l.7 0l.4 4.3l.7-2.2l.6 4.3l.6 9.3l.3-6.6l.6 9.1l.8-5.8l.6 5.7l.8-7.9l.3 10.4l.4-6.8l.4 10.2l.3 4.9l.3-3l.4 3.3l.5-4.8l.5 6.6l.5-4.2l.4 4.1l.4-3.5l.4 3.1l.2-10.1l.4 3.5l.3-7.3l.3 4.7l.5-3.3l.3 4.5l.7-11.3l.8 13.4l.8-8.3l.6 11.9l.5-10.7l.7 7.5l.9-8.8l.7 10.3l1-5.9l1.2 8.3l.3-6l.4 6.1l.4-4.7l.4 4.9l.6-2.5l.7 4.5l.3-2.3l.6-.6l.6-2.7l.5 20.9l.8 5.6l.6-.5l.6 4.1l.4-4l.5 4l.6-3.8l.4 7.2l.4-6.1l.5 7.9l1.6 21.4l.4-5.8l.3-.2l.4-9.2l1.3 21.8l3.2-54.4l.8-1l.7 3.5l.2 1.7l.5-5l.2 3.2l1.1 28.8l1.3-28.8l1.6 25.6l.4-7.9l.2 3.6l.4-7.3l.5 3.4l.4-1.3l.4 3.1l.3-8.5l.3 3.3l.3-6.8l.7 6.3l.4-2.8l.3 2.8l.4-3l.6 7.1l.6-10.5l.5 5.5l.5-6.2l.3 6.8l.4-5.3l.3 6.7l.4-4.9l.6 1.4l.4-3.9l.3 7.1l.3-6.3l.2 8l.9-11.3l.7 7l.7-9.6l.7 8l.5-3.1l.6 4.8l.4-8.1l.7 4.7l.4-7.6l.5 2.5l.5-1.5l.6 4.8l.3-4.7l.7 7.3l.4-5.6l.4 6l.4-7.2l.3 4.8l.5-7.6l.3 4.9l.7-5.1l.2 3.7l.5-1.6l.2 2.7l.4-4.2l.8 2.1l.4-4.5l.7 17.8l.7-8.4l.3 16.1l.3-10.4l.4 12.9l.5-8.5l.2 3.4l.5-5.3l.3-1.5l.4 5.2l.3-.5l.3-7l.4 3.5l.3-8.5l.2 7.1l.4-3.9l.2 8.1l.6-4.9l.2 .5l.5-2.9l.3 9l.4-4.4l.4 5.8l.3-7.3l.3 4.1l.4-6.8l.3 5.9l.3-5.2l.4 7.5l.7-9.4l.5 14.5l.8-5.7l.8 10.4l.8-17.1l.4 8.4l.2-2.5l.4 7.3l.6-21.7l.6 12.1l.4-7.1l.6 14.2l.7-9.1l.6 3.8l.5-1.8l.6 3.1l.8-8l.6 7.4l.4-3.7l.7 7l.7-4.3l1 3.9l.8-5.2l.4 4.5l.5-3l.5 5.4l.7 11.9l.3-4.2l.7 9.3l.4-5.3l.7 3.4l.5-7l.3 13.5l.4-5l.5 9.8l.7-15.8l.4 4.5l.2-.5l.4 3.5l.2-15.1l.5 11l.3-14l.5-4.3l.4 3.6l.5-5.5l.6-.2l.5 4.6l.6-.3l.5-2.8l.7 .9l.5-4.8l.6 .5l.3-6.8l.7 1.9l.7 1.2l1.1 3.1l.9 .1l.3-5.6l.5 6.2l.5-4.6l.5-6.2l.4 1.6l.3-3.8l.9 2.3l.6-.8l.7 4.1l.4-6.3l.7 2.5l.3-7l.3 5.1l.5-2.7l.4 7l.3-2.3l.5 1.2l.3-3.9l.3 7.4l.3-5.2l.3 7l.4-2.8l.4 4.6l.5-2.6l.3 .9l.3 1.2l.3 1l.2 3.7l.5-3.1l.3 1.1l2.7-44.1l1.3 25.7l.3-6.8l.2 3.5l.4-6.6l.5 4.8l.7-5.4l.7 15.2l.6-7.2l.5 6.7l.3-6.7l.6 16.1l.4-8.2l.6 5.9l.7-9.5l.8 8.3l.6-9.7l.5 6.7l.4-8.7l.4 3.3l.6-3.9l.3 4.7l.4-1.6l.4 4l.3-2.6l.3 1.2l.3 2.5l.2 .4l.8-6l.8 1.7l.3-4.4l.3 2.4l.3-2.9l.6 9l.3-.6l.4-2l.2 .3l.3 5.1l.3-2.7l.3 4.5l.7-5.3l.8 4.6l.3-5.2l.2 4l.4-6.1l.3 10l.4-6.3l.2 8.4l.5-5.8l.4 6.7l.2-3.8l.4 7.6l.8-6.6l.6-2.5l.5 4.5l.3-.2l.3-4.8l.4 3.1l.3-3.9l.4 3.7l.3 .8l.3 2.9l.4-.2l.6-.2l.5-2.6l.7 6l.6 4.6l.4-1.7l.6 2.7l.3-1.3l.4-2.3l.5-.2l.5 3.3l.4-.7l.3 4.4l.7 12.2l.5-7.6l.7 11l.4-4.6l.6 3.4l.4-4.9l.5 7.9l.4-3.6l.6 5.5l.5-4.8l.3 3.1l.4-5l.5 3l.4-8.8l.2 7.2l.5-9.2l.7 12.6l.4-4.1l.4 .4l.4-5.9l.6 11.5l.6-14.7l.4 7l.5-2.1l.2 5.2l.7-21.1l2.1 29.5l1.1-21.2l2 32.6l1.6-36.1l.6-5.4l.4-1.8l.2 4.5l.4-2l.4-5l.4 2.7l.3-5l.8 8.1l.4-3.6l.9 7.5l.4-7.6l.5 5.6l.7-11.6l.3 9.8l.8-4.2l.3 7.8l.5-1.4l.2-1l.5-2.3l.4 9.1l.3-4l.3 7l1.6-21.6l.3-6.3l.3 2.2l.3-3.2l.7 5.5l.7-11l.3 4.4l.3-3.2l.3 3.9l.3-6.7l.3 7.5l.4-5.4l.3 3.6l.4-.7l.3 3.8l.2-1.5l.4 .3l.3-2.2l.5 1.9l.6-3.7l.3 3.4l.3-3.5l.3 4.4l.3-4.7l.4-.2l.6-.7l.4-3.4l.3 3.9l.3-6.8l.3 5.2l.5-4.9l.6 5.1l.6-3l.8-4.9l.3 3.4l.3-5.2l.3 2.5l.7-3.8l.4-.5l.4-1.6l.4-1.7l.4 3.7l.4-4.3l.4 2l.8-4l.8 13.5l.3-5.8l.7 3.6l.5-5.4l.2 16.2l.4-7.9l.3 11.4l1.3-22l.3 9.4l.2-5.3l.3 6.9l.5-9.1l.2 4.6l.4-10.1l.4-10l.8 5.3l.4-6.5l.4 9.1l.4-3.2l.3 7.6l.5-2.9l.5 .8l.4-3.3l.4 5.9l.4-2.9l.2 7.3l.6-12.5l.8 4.2l.7-10.1l.4-3.9l.2 1.7l.4-4.1l.6-1.5l.7 4.8l.6-2.1l.4-4.1l.4 6.6l.3-5.4l.8-5l.4 3.6l.3-5l.5 4.8l.3-3.6l.4 1.9l.2-3.9l.3 5.1l.6-3.8l.4 4l.6 .6l.7-5.9l.4 2.4l.5 4l.3-1.6l.5 3.2l.3 5.6l.3-2.5l.4 3.4l.6 0l.5-2.2l.5-1.1l.3 4.1l.5-1.9l.3 5l.2 7.4l.5-3.2l.2 6.4l.6-3.9l.5 1.4l.6-3.8l.3 7.1l.3-2.1l.3 5.1l.6 7.6l.8-3.8l.7 5.8l.8-2l.3 .2l.6 .4l.3-.1l.7-3.3l.5-3.4l.2 1l.4-2.9l.3 .5l.4 3.5l.3-1.1l.5-4.6l.3 4l.3-8.2l.4 8.5l.3-5.5l.4 7.1l.4-3.8l.5 3.1l.4-5l.8 7.6l.7-6.4l.3 .3l.6-3.5l.3-.1l.6-1.5l.4-1.2l.4 4.1l.5-6.1l.3 3.5l.4-2.8l.6 2.3l.5-2.2l.9 2.1l.7 .1l.8 3.4l.4-5.1l.3 1.4l.3-2.9l.2 2l.6-.4l.2 2.4l.5-5.1l.3 2.6l.4-5.3l.5 3.4l1-2.2l.5 3.7l.3-.6l.8-3.3l.4 .5l.4 3.7l.6-4.2l.4 3.8l.6-6.9l.4 1.5l.5 .9l.4 1.4l.3-3l.4-.5l.2-1.9l.3 5.3l.5-3.7l.2 7.6l.7-4.4l.4 5.2l.3-2.6l.4 4.3l.6 6.8l.3-4.2l.4 4.2l.3-4.2l.8 11l.8-5.7l.6 3.4l.2-3l.4 2.3l.4-3.4l.5 4.8l.3-2.6l.5 6.7l.4-2.4l.5-.4l.3-2.1l.3 8.9l.4-5.8l.5 7.3l.4-9.3l.4 6.1l.6-9.2l.4 1l.4 2.9l.4-1.4l.4-6.4l.8 1.1l.5-4.8l.3-.7l.3-2l.3-.5l.4 2.5l.1-4.8l.4 1.8l.6 .5l.4 1.2l.8-3.2l.5-.2l.4 4.6l.5-4.5l.3 3.2l.2-3.2l.6 4.3l.3-3l.8 4l.3-2.8l.4 3l.4-1.6l.3 5.2l.6-4l.4 5l.7 5l.4 .3l.4-4.6l.3 1.6l.6 3.3l.3-5.8l.4 3.7l.3-5.7l.7 4.7l.4-5.8l.6 4.6l.8-6.9l.5 4l.7-1.1l.3 2.6l.2 .2l.4 3.1l.5-3.4l.3 2.8l.5-.6l.3 1.8l.8-3l.8 5.5l.7-1.5l.8 3.7l.5-.8l.4-2.9l.7-.1l.6 6.5l.4-2.8l.7 5.2l.4-8.6l.7 6.1l.4-8l.5 3.7l.3-5.9l.5 5.8l.4-4.5l.5 1.2l.3-6.6l.3-1.5l.4-1.3l.5-1l.8-.9l.8 4l1-2.2l.6-3.4l.4 .4l.5-2.9l.4 2.9l.2-1.5l.5 4.2l.4-.3l.4-2.3l.5-.3l.4 3.2l.4-.7l.3 3.6l.7 5.5l.5-1.7l.4 5.8l.7 5.6l.5-6.8l.5 4.2l.3-1.3l.5-1.9l.3-.5l.3 2.5l.4-3.1l.5 4.5l.4 4.4l.2-2.8l.4 5.1l.3-4.4l.4 4.2l.3-3.5l.2 3.4l.5-.9l.2 4.1l.6-2.9l.7 .1l.6-2l.4 7.9l.5-6.5l.4 6.7l.8 .2l.9-2.8l.6-.5l.4 3.5l.7-.2l.5 3.7l.5-12.1l.5 7.8l.8-9.4l.6 2.9l.9-1.7l.9 3.4l.5-7.3l.7 3.9l.6-4.3l.7 4.7l.5-2.3l.5 4.2l.7-4.8l.4 5.2l.7-3.2l.7 4.9l.8-2.6l.6 5.1l.4 3.7l.4-1.3l.3 2.9l.7-.7l.7 5.8l.3-4.8l.5 7l.3-4.6l.3-1.6l.6 2.3l.3-.5l.9-2.6l.2 6.8l.3-2.7l.4 7.3l.5-4.4l.8 4.2l.4-5.6l.5 5.1l.3-2l.6 4.9l.5 1.9l.4 2.2l.5-1.2l.3 1l.3-5.3l.4 2.3l.6 .8l.6 1.5l.4 .8l.4 10.9l.5-5.8l.5 8.6l.8-1.3l.5 .8l.9-3.5l.3 10.8l.5-7.4l.4 12.6l.6-7.8l.9 4.5l.6-12.7l.4 3.5l.3-2l.4 3.7l.3-.1l.3-1.8l.3-.2l.7 5.7l.6-1.9l.3 2.7l.2-4.7l.4 1.5l.3-3.8l.4 4.6l.2-2.4l.5 6.5l.5-2.9l.5 7.3l.9-3.9l.9 2.2l.5-4.4l.7 9.5l.7-5.7l.4 6.6l.5 4.2l.8-3.2l.8 3.7l.4-5.5l.8 2.1l.4-4.6l.3 6.4l.4-1.3l.3 7.1l.4-3.2l.4 1.2l.3-3l.5 9.8l.3-6.4l.3 10.3l.5-4.1l.7 2.6l.4-4.4l.5 2.1l.4-2.7l.3 2.4l.4-5.2l.4 6.4l.4-5.2l.7 3.9l.3-3.4l.5 5.7l.4-4.1l.6 3.3l.3-1.4l.4 2.5l.5 5.1l.3-3l.5 3.5l.6-3.3l.4 6.4l.5-4.8l.4 4.9l.4-.1l.3-2.3l.3 .2l.6 .9l.7 1.7l.8-.5l.4-4.3l.2 4.3l.3-3.9l.4-9.6l.4 6.9l.6-9.6l.5 7.7l.4-8l.6 5.4l.3-8.9l.3-4l.4 2.1l.2-4.7l.3 3.3l.5-3.9l.4 2.3l.7-7.1l.3 5.8l.2-3.4l.3 7.8l.3-4l.3 2.8l.3-5.8l.3 7.1l.5-3.6l.3 6.9l.3-3.2l.3 2.1l.4-.9l.5 4l.3-4.9l.6 2.5l.9-3.6l.6 7.2l.5-3.9l.5 6.3l.7-.4l.4-.6l.4 3.1l.4 0l.5-.9l.3 3.4l.5-2.1l.4-2.9l.7 .1l.5-1.5l.5-.2l.5 2.6l.3 .9l.2-4.2l.4 2.3l.5-3.6l.3 .3l.2-2l.4-1.2l.4 1.4l.4-2.5l.2 1.5l.8-4.7l.4 2.9l.5-3.8l.3 3.9l.3 2.3l.2-4.6l.3 2l.9 3.7l.4 .3l.7 2.2l.5 1.5l.8-6.1l.4-.1l.7 5.6l.5-1.8l.4-2l.6-1.8l.7 .5l.3 .3l.4 1.4l.5-.3l.5-5.8l.5 4.1l.4-4.4l.3 4.1l.4-3l.3 5.6l.4-1.1l.6-.3l.4-1.3l.5 2.8l.4 .6l.4 1.4l.4 4.5l.6-4.1l.4 2.4l.4 1.7l.7-1.7l.5 .6l.3-1.4l.5 3.5l.2 .2l.4 4l.8 0l.4 3.4l1.3-3.9l1.2 .9l.8-1.5l.5 5.5l.4-2.9l.6 4.9l.7-10l.3 2.8l.3-1.5l.5 5l.6-10l.4 4.1l.4-1.3l.3 4.4l.6-.3l1.2-2.4l.7-.2l.4 3l.3 .3l.5 2.9l.4-6.2l.4 3.5l.4-4.7l.3 2.5l.5-.8l.2 2.9l.2-4.1l.5 .8l.3-3.5l.5-1.6l.5 3.8l.5-.8l.4 .1l.4-2.5l.6-.7l.4 .4l.9 2.2l.6-1.8l.3 4.3l.5-1.2l.4 3.1l.5-2.6l.3 5.2l.5-4.3l.6-.2l.3 2.3l.6 1.5l.6 4.1l.3-.9l.2-2.5l.4-.6l.3 4.8l.4-5.9l.2 4.2l.4-5.2l.5 1.3l.7-3.3l.7 5.9l.3-2l.3 4.1l.2-5l.4 6l.2-2.6l.3 3.2l.8-23.9l.3 10.4l.5-10.1l.2 14.2l.4-17.1l.2 9.2l.3-10l.3 12.3l.1-5.9l.3 7l.3-5.1l.4 6.7l.4-6.7l.2 7.9l.2-4.9l.2 4.8l.4-8.3l.2 7.3l.2-6.5l.3-1.8l.2 6.4l.3-.8l.2-8.8l.6 7.6l.2-8.8l.3 7.6l.2-7.5l.2 9.3l.5-.9l.3-5.3l.5-.3l.3 7.6l.2-6.4l.2 8l.4 10.9l.5-10.2l.4 11.3l.8-9.7l.6 6.1l.9-10.2l.3 12.6l.6-6.2l.3 10.6l.7-3.4l.5 1.4l.4-5.1l.4 3.1l.4-5.9l.4 5.2l.5-1l.4-3l.3-1.7l.3 5.6l.2-3l.1 4.5l.4-6.7l.4 2.7l.3-5.1l.2 6.1l.3-2.7l.2 4.2l.2-7.9l.4 8.2l.1-5.7l.2-2.4l.3 5.4l.2-1.3l.1 .7l.3-6.3l.3-.3l.3 10.4l.5-9.2l.3 12.8l.3-3.9l.2 5.3l.3-11.2l.3 10l.4-6.1l.2 7.1l2-34.5l.2 9.1l.2-8.1l.2 9.5l.2-6.3l.1 3l.3-5l.2 9.8l.3-7l.3 11.8l.2-7.1l.2 8.2l.2-10.9l.3 13.1l.3-6.9l.2 5.7l.2-8.5l.2 .8l.5 3.7l.2 .4l.6-4.5l.5 5.2l.4-3.7l.3 5l.2-3.1l.3 6.7l.9-28.9l1.2 26.6l1.1-29.8l1.1 21.6l.3-14.2l.3 7.8l.3-12.2l1.2 23.4l.4-3.9l.3 8l.3-4.1l.4 2.3l.4-4.4l.3-2.6l.1 3.5l.3-5.3l.2 1.7l.3 3.6l.4 .9l.5 2.4l.2-6.4l.4 8.9l.4-8.2l.1 7.1l.4-3.4l.2 4.8l.4 .6l.5-7.8l.3 2.5l.5-1.8l.9 5.1l.9-1.6l.5-11.3l.3 10.7l.5-6.1l.3 .6l.4-2.4l.4-3.4l.7 3.4l.5-.1l.7 3.8l.5-.7l.8-5.5l.5 1.1l.3-6.6l.2 9.6l.3-9.4l.3 10.1l.3-11.9l.2 8.7l.2-10l.2 9.7l.4-8.2l.5 2.3l.5-7.3l.3 1.3l.2-.9l.4 5.4l.4-5.4l.7-2l.5 2.5l.5-2.3l.2-2.8l.5 8l.3-3.2l.4 1.6l.4 5.4l.4-8.4l.2 2.6l.6-23.2l.3 15.5l.4-8.2l.5 12.4l.6-22.1l.6 24.3l.3-15.4l.4 9.9l.2-13l.9 23l1.6 22.5l.8-41.7l.5-12.4l.2 7.9l.4-10.5l.2 6.9l.5-14.3l1.4 44.8l.2 11.5l.2-9.5l.2 12.5l.4-7.9l.2 3l.4-6.2l.8 22.3l2.4-44.9l.3 13.2l.3-7.8l.2 12.3l.4-8.6l.4 13l.3-10.3l.2 11.3l.2-7l.1 11.1l.2-4.1l.3 1.3l.4-5.7l.2 4.9l.2-5l.2 4.7l.2-7.1l.4 4.7l.3-6.5l.5 13.8l.5-7.4l.1 8.8l.4-5.5l.1 7.9l.3-10.9l.2 6l.1-10.5l.3 8.2l.4-6.3l.3 9.9l.2-10.9l.4 8.6l.2-12.5l.3 11.2l.3-10.4l.3 13.1l.4-7.5l.3 5.5l.3-8l.4 7.9l.4-2.4l.5 7.4l.4 10.6l.3-5l.4 8.1l.4-5.6l.4 4.3l.2-9.2l.2 12.8l.2-6l.2 11.7l2.1-28.1l.2 7.1l.4-3.8l.2 7.9l.3-7.5l.4 5.7l.5-8.5l.4 9.4l.6-5l.2 9.2l.5-6.8l.4 6.4l.3-5.4l.4 0l.4 1.4l.4 3.6l.2-7.1l.3 5.9l.3-6.9l.5 11.4l.3-4.1l.4 9.5l.6-7.3l.8 6.9l.9-9.4l.4 9l.5-2.8l.4 6.9l.4-12l.5 10.7l.4-9.4l.4 8.2l.4-5.3l.3 5l.3-9.8l.3 8.4l.2-10.2l.3 9.2l.1-10.1l.2 7.4l.2-7l.4 9.3l.2-5.1l.4 .2l.3 4.8l.4-.7l.2-5.8l.4 3l.5-5.8l.4-1.9l.3 3.5l.4 1.1l.2-3.1l.5-2l.3-.3l.2 7.3l.3-9.3l.4 5.1l.8 5l.7-7.4l.6 5.2l.3 1.5l.4-2.5l.3 1.6l.3 3.3l.7-4.3l.3 3.4l.4 2.1l.5-4.8l.5 3.1l.8 1.2l.7-6.5l.6 3l.8-5.4l.3 .8l.4-1.1l.4-.9l.6 3.5l.5-.7l.7 1.7l.3 .7l.4-3.3l.4 1.8l.2-2.4l.4 2.1l.3-4l.3 1l.6-1.6l.4 2.3l.3-.7l.3-2.7l.4 .3l.3-10.1l.8 3.6l.3-7.2l.6 7l.4-3.8l.5 5.3l.6-7l.5 1.5l.8-7.7l.5 10.4l.5-3.7l.3 4.2l.5-2.6l.5 1l.3 .9l.5 2l.4-3.4l.2 5.2l.3-3.6l.4 1.9l.5-.7l.5 3.1l.5-4.3l.6 4.6l.7-2.9l.4 4.1l.8-2.4l.4 3.8l.3-5.2l.7 1.4l.3-3l.7 .1l.9 1.6l.6-1.6l.6-4.3l1 2.4l.5-5l.8 3.7l.4-1.8l.7 1.5l.3-.4l.3 4.1l.4-3.6l.3 2.9l.7-4.2l.5 2l.7-4.2l.8 4l.8-1.3l.5 3.7l.7-8.6l.6 4.1l.7-6.8l.7 1.9l.3-1.5l.7 5.1l.3-9.8l.4 7.1l.4-9.1l.4-2.2l.3 4.9l.4-1.5l.3 2.4l.7-2.7l.3 1.8l.8-.3l.4 9l.4-4.4l.3 6.6l.3-4.8l.2 3l.3-4.9l.3 6.3l.7-3.5l.3 7.9l.4-.3l.3 4l.4 .1l.5 2.1l.2-3.3l.5 1.5l.2 3.9l.4-4.4l.3 3.6l.4-8l.2 3.3l.4-4.9l.3 3.3l.6-1.4l.6 2.5l.4-2.6l.5-.1l.6-3.3l.7 5l.6-3.2l.9 6.7l.3-5.5l.7 3.3l.3-3.8l.9 4.3l.4-1.4l.8 6.6l.3-5.2l.4 4.1l.3-5.2l.5-1.3l.4 3l.4-1.1l.2-4.7l.3 3.4l.4-4.2l.1 12.5l0-13.6l.5-1.4l.7-2.4l.4 0l.4 1.2l.6 2.1l.4 .3l.5-4.1l.7 1.8l.6-3.1l.4-.3l.3-3.3l.3 .2l.3-.9l.3 2.6l.2-1.3l.4-.2l.2-3.3l.3 .9l.6 3.6l.6-1.6l.4 3.6l.3-2.4l.6-.2l.3-2.1l.7 0l.4-1.3l.4-.3l.2-.9l.3-1.6l.6-.5l.3-1.4l1 5l.6-4.9l.6 3.9l.4-5l.7 2.4l.3-4.4l.3 .1l.5-2.1l.4-.4l.4 .3l.7 3.4l.8-2.7l.4-4l.2 5.2l.3-3.8l.6-4.9l.4 3.2l.3-5.4l.4 3.3l.3-1.6l.4 3.6l.8-7.8l.8 2.9l.4 1.5l.3-1.5l.4-.7l.9 3.4l.6-13l.7 6.5l.7-13.5l.6 6.5l.6-2.8l.4 6.7l.8 3l.4-3.7l.5 2.7l.4-3.4l.7 3l.4-7.5l.6 3.2l.4-5.6l.7 6l.6-6.7l.4 4.8l.5-7l.4 1.3l.7-2.5l.3 1.7l.4-2.1l.2-.6l.3-2.2l.4 .9l.2-1.9l.4 2.2l.2 5.2l.3-2.2l.3 2.9l.5-.2l.2-3.4l.5 .6l.4 4.7l.4-1.4l.4 3.4l.4-3.2l.4 .4l.4-2.2l.3-2l.4 2.8l.3 .5l.3-4.5l.4 2.6l.3-4l.7-10l.5 3.4l.3-1.3l.4 3.7l.5-6.3l.4 2l.4-3.5l.6 6.1l.6-3.9l.4 8.2l.7-7.7l.7 5.2l.3-4.7l.5 2.4l.2-4.8l.4-6.2l.3 3.9l.2-5l.3-1.1l.4 3.3l.2 1.2l.6-6.5l.6 8.6l.4-5.4l.3 1.9l.4-3.8l.7 7.5l.6-10.9l.3 5.8l.3-3.8l.3 5.7l.2-9.4l.4 4l.3-9l1.1 28l.5-13l.3 7.1l.5-10.9l.4-8.6l.6 5.6l.6-9.8l.6 8.1l.4-3.1l.3 1.7l.5-3.6l.6 6.5l.3-6.2l.4 3.6l.2-5l.3 3.4l.2-2.3l.4 3.6l.6-8.3l.8 2.8l.2-2.5l.4 5.4l.4-2.3l.6 2.2l.3-4.3l.3 2.2l.4-5.2l.4 3.5l.5-1.6l.3 4l.3-5.2l.4 2.5l.3-7.9l.3-.8l.3-.9l.3-2.1l.3 2.4l.4 1l.3 1.5l.3-5.9l.5 7.3l.5-4.9l.4 2.8l.3-.7l.4 2.7l.3-3.5l.6 2.3l.2-3.2l.3 3.4l.3-1l.4 2l.3 .1l.5 3.5l.4-1.4l.4 .7l.7-3.9l.4 1.1l.4 3.3l.3-2l.3 2.6l.3-2.3l.4 1.1l.2-2.8l.6 2.3l.6-3.5l.3 2.2l.5-3.6l.3 1.8l.3-3.2l.4-6.4l.3 4.5l.3-7l.6 .4l.5 1.7l.3 1.3l.8-6.6l.4-3.6l.5 2l.5-3.8l.8 1l.6-1.7l.6 2.2l.4-2.1l.7 1.6l.3-3.6l.3-5.9l.6 3.4l.5-4.6l.5 4.4l.4-5.5l.6 3.9l.4-4.1l.4 1.5l.3-3.5l.3 4l.4-2.3l.2 3.7l.6-2.9l.3 2l.4-1.3l.2 3.2l.4-3.7l.6 2.3l.6-4.2l.7 6.7l.3-2.7l.4 1.6l.2-4.3l.8 8.3l.3-6.5l.4 4.5l.3-7.3l.7 4.6l.7-2.7l.4 5l.5-7l.4 2.4l.3-5l.3 5.1l.6-2.5l.3 3.6l.4-2.5l.5 5.1l.5-3.8l.5 2.8l.4-1.4l.5 3.2l.3-9.1l.6 4.7l.4-5.9l.6 4.9l.5-4.5l.3 .4l.5-4.9l.6 4.9l.7-.9l.7 4.8l.5-3l.7 1.2l.5-6.2l.7 6.4l.4-2.2l.3 3.3l.3-2l.4 5.2l.4-2.7l.2 4l.4 5.1l.5-.5l.4 4.6l.6-2.4l.5 .6l.4-3.2l.4 8.1l.3-3.7l.6 5.9l.7-3.4l.4-.7l.2 2.1l.4-.3l.7-2.6l.3 4.8l.2-2.4l.4 6.1l.6-3.1l.4 2.8l.4-4.2l.9 7.3l.5 8l.5-4.1l.6 7.3l.5-8l.4 2.5l.7-5.7l.3 3.5l.4-5.2l.2 3.9l.5-.4l.3-3l.4-.2l.3 2.5l.5-3.3l.3 2.2l.4-2.2l.3 1.1l.5-2.8l.3 .2l.3 2.3l.2 0l.4-3.9l.4 1.9l.4-3l.4 7.9l.7-2.2l.8 7.9l.3-8.3l.6 4l.4-6.9l.3-6.3l.5 5.3l.5-5.6l.4 1.7l.4-2.8l.5 3.6l.3-3.4l.6 2.9l.5-5.9l.2-.5l.4-2.6l.4-.6l.5 3.8l.3-.9l.3-1.1l.3-1.3l.2 2.9l.5-1.7l.2 3.2l.6-2l.2 4.9l.4-4.7l.3 4.6l.6-.7l.2-1.9l.5-.9l.3-.7l.8 1l.4 5.4l.7-3.4l.5 5.3l1.6-21.1l.6-13.9l.2 7l.4-4.4l.3 5.9l.6-15.1l.6 10.6l.4-4l.2 1.7l.4-5l.4 4.8l.3-1.9l.4 7.1l.3 1.1l.3-4.2l.3 1l.6 .6l.3-2.5l.3 3.1l.3-3.9l.6 3.3l.4-1.5l.6 3l.8-4.7l.3 .7l.8-5.6l.6 9.1l.7-5.1l.8 13.6l.3-3.2l.4 1.3l.4-1.9l.3 3.8l.6-2.2l.3 3.1l.3-1.3l.4 1.1l.2-3.9l.5-5.8l.4 2.2l.4 1.3l.3 1.6l.5-5.7l.5 2.2l.2 .5l.4 3.3l.4-4.1l.4 1.7l.5-1.9l.3 4.8l.4-1l.4 5.7l.4-4.8l.2 2.4l.4-5.3l.3 2.5l.3-3.4l.4 3.5l.5-4l.3 2.3l.4-4.4l.4-4.9l.4 .1l.3-1.4l.3 2l.8-.1l.4 1.8l.6-4.9l.4 3.3l.4-4.7l.5-6.8l.7 4.4l.4-6.3l.8 4.9l.4-3.7l.7 .3l.5-4.1l.7 3.4l.3-2.6l.3 3.7l.4-1.2l.7 2.3l.3 .4l.6 1.8l.3 .8l.5-1.3l.2 3.5l.5-2.4l.8 3.7l.4-4l.4 .6l.6-4.5l.4 3.2l.5-2.5l.3 2.8l.3-2.4l.6 1l.5-3.1l.4-3.8l.4 1.3l.4-4.8l.7 3.7l.4-3.5l.6 .2l.3-2.7l.6-8.5l.3 3.2l.5-2.7l.4 3.8l.6-7l.6 10.5l.6-4.6l.4 8.5l.8 5.7l.5-3.1l.8 7l.2-4.6l.4 1.4l.3-2.7l.4-.6l.2 2.7l.5-.7l.8-5.9l.3 .4l.4 2.4l.3 .3l.8-.7l.9 4l.4-3.2l.8 .2l.5-3.2l.3 3.4l.5-3.6l.4 2.2l.4-2.3l.6 1.4l.6-3.7l.4-5.6l.7 3.9l.3-4.8l.5 3.8l1-3.3l.4 3.7l.4-4.8l.6 1.2l.5-3.7l.3 7.2l.5-4.7l.3 7.9l.4-5.5l.3 3.2l.4-3.9l.3 6.9l.3-4.6l.4 6.3l.4-8.5l.8 3.5l.4-7.8l.3-1.1l.2 4.2l.4-3.2l.4-.1l.3 1.8l.4 .4l.3-.7l.6-1.5l.3 1l.6 4.1l.5-1.4l.5 4.5l.4-2.5l.3 1.3l.4-3.5l.4 1.9l.5-2.8l.5 3.3l.7-4.1l.8 3.7l.3-3.8l.3 1.3l.3-2.7l.7 3.1l.5-16l.3-2.1l.3-.1l.5-1.8l.8 1.1l.8-1.9l.9 2.1l.5-.4l.9 3l.3 1l.5-3l.6 .1l.6-1.5l.6 4.6l.7-.3l.3-5.3l.2 1.1l.4-5.1l.8 3.6l.9-9.5l.4 4.9l.3-5.4l.3 4.2l.9-1.6l.3 2.3l.3-.9l.5 3.7l.3 5.5l.4-1.5l.3 8.1l.7-7.5l.7 10.6l.4 14.8l.7-5l.5 7.8l.8-10.2l.6 4.1l.7-6.7l.6 5.4l.6-1.9l.4 6.4l.3-.1l.6-3.1l.2-.2l.5 8.8l.7-4.2l.4 6.5l.6 9.7l.7-6.5l1 9.2l.6-5.8l.7 4.7l.4-6.2l.6 10.4l.6-5.1l.4 8.1l.4-9.7l.6 5.1l.3-9.9l.7 4.6l.9-2.5l.6 4.1l.6-6.5l.3 4.2l.4-7.9l.3 3l.4-.5l.3 2.4l.8-1.3l.6 2.8l.5-10.4l.4 5l.5-11.7l.4 7.7l.5-3.5l.4 7.6l.3-10.8l.3 3.4l.2-11.3l.4 10.8l.5-8.1l.4 11.7l.7-11.2l.6 5.5l.7-11.9l.2 5.9l.4-2.5l.2 4.4l.4 1.9l.4-4l.3 .7l.2 3.7l.4-1.7l.3 4.4l.6-10l.5 7l.4-10.5l.3 4.9l.4-2.3l.3 3.3l.5-8.8l.3 6.9l.5-7.6l.2 3.8l.4-2.4l.2 5.6l.3-.9l.3-1.1l.4-1.7l.6 10.3l.3-10.9l.3 6.8l.3-8.2l.3 3.4l.7-2.7l.3 4.4l.4-7.7l.2 3.1l.4-9.8l.7 4.4l.2 1.1l.4-3.3l.3 1.7l.8 6.5l.2-7.1l.5 3.5l.3-7.7l.5 2.6l.7-1.2l.5 2.5l.4-8.2l.5 5.2l.4-6.4l.7 13l.3-5.2l.5 3.5l.3-6.5l.6 8.8l.6-3.3l.3 2.6l.3-6.1l.3 2.7l.3-.3l.3-1.4l.3-.6l.3-9.3l.3 3.9l.3-7l.3 4.8l.3-3.2l.3 5.9l.3-10l.4 3.1l.4-5.9l.5 11.7l.3-3.8l.3 1.8l.3-4.2l.5 9l.3 5.5l.4-1.8l.4 3.2l.3-.1l.4-.8l.3-2.1l.8 7.3l.5-11.5l.7 4.6l.4-14l.7 6.6l.5-3.3l.7 8l1.3-27.3l.5 6l.3 1.1l.3-2.8l.3-.4l.5 7.3l.3 2.2l.3-2.5l.3 3.4l.7-4.9l.4 2l.4-1.4l.3 2.8l.5-11.4l.2 5.1l.5-1.4l.3 3.8l.6-12.1l.7-13.1l.8 9.2l.6-15.3l.2 14.3l.4-5.8l.3 10.9l.7-12.2l.5 11.7l.4-4.9l.2 12.4l.4-8.4l.3 4.6l.2-8.5l.6 2.4l.2-4.8l.4 .6l.3-5.1l.8 4.5l.5-2.3l.5 3.3l.7-3l.7 4.7l.7-6.5l.8 4.2l.2-4.8l.5 1l.2-5.1l.4-13.4l.3 8l.4-13l.5 12.6l.7-5.5l.6 9.7l.7-8.7l.3 1.4l.6-9.2l.6 8.6l.9-2.6l.4 11.3l.6-5.6l.3 1.3l.4 2.9l.3-1.2l.8-6.2l.7 11.4l.5-3.8l.4 6.8l.3-2.5l.4 3.8l.3-4.2l.7 2.7l.7-3l.5 14.7l.9-5.6l.7 11.7l.3-8.5l.4 2.9l.5-5.3l.2 6.7l.3-2.9l.3 4.9l.7-12.2l.5 10.4l.4-6.7l.5 11.2l1-7.5l1 4.5l.7-6.5l.4 10l.8-7.6l.3 11.4l.3-8.1l.5 2.5l.2-8.2l.8 5.2l.7-17l.4 .8l.5 2.4l.3-.2l.5 2.1l.7-3.7l.6 .8l.4 2.6l.3-1.8l.3 3.4l.3 2l.3-4.4l.2 2.1l.4-1.9l.2 3.3l.4-3.8l.6 1.1l.5 8.2l.3-3.1l.4 1.9l.5-3.9l.7 8.9l.6-2.4l.5 .9l.4-2.4l.4 3.8l.4-4.6l.3 2.5l.4-2.9l.6 3.2l.4-3.7l.7-6.8l.6 3.1l.6-5.7l.3-.6l.5 4l.4-.2l.5-6.2l.6 3.2l.6-6l.6 7l.3-2.4l.4 1.7l.3-3.1l.8 5.6l.5 7l.7-1.9l.4 3.7l.8-2.2l.2 1.2l.5 .5l.3 1.7l.6-3.6l.4-5.1l.8 3.9l.7-6l.5 8.5l.3-3.2l.3 .3l.3-1.9l.7 6.7l.7 9.9l.3-4l.3 1.4l.3-4.5l.8 10l.4-8.9l.8 3.3l.4-8.8l.3-1.5l.5-.1l.3-2.2l.5 .2l.5 2l.3-.6l.3-1.4l.5-.9l.3-1.1l.5 5.1l.5-2.2l.3 3.4l.3-2l.5 2.1l.4-4.7l.7 2.2l.5-4.1l.3 2.8l.5-3.6l.4 1.6l.5-2.6l.2 .1l.5-2.1l.3 4.1l.6-1.8l.3 4.3l.5-2l.4 1.5l.3-3l.8 8.1l.3-5.1l.6 2.3l.2-3.9l.3 3.8l.3-4.7l.4 2.5l.4-5l.3 2.9l.4-4l.6-.1l.9 2.1l.7 1.7l.6-2.7l.5 2.8l.5-2.2l.7 2.9l.6-3.3l.5 2.8l.7 2.9l.8-1.3l.4 2.5l.5-3.5l.7 4.6l.4-2.8l.6 3.4l.3-1.4l.4 2.8l.5-3.2l.4 1.4l.5-3.3l.6 3.7l.3-7.2l.6 6.1l.3-7.1l.5-10l.3 6.3l.5-10.7l.7-3.8l.3 2.5l.4-2l.3 1.2l.5-2.7l.3 2.5l.6 0l.4 2.7l.8-4l.2 2.7l.4-2l.2 5.3l.8-6.3l.7 2.7l.3-2.4l.3-.9l.3-.3l.6-10l.5 3.3l.5-7.7l1.6 25.6l.9-20.1l.4 2.3l.2-.2l.4 3.4l.5-16.6l.4-5.9l.4 3.6l.3-5.1l.4 4.2l.3-3.3l.4 4.3l.7-8.2l.7 13.6l.3-4l.4 1.5l.3-3.8l.4 6l.4-1.4l.2 7.3l.4 9.5l.6-5.9l.6 10.8l.8-16.6l.5 9.8l.8-14l.8 21.2l.7-12.8l.9 21.7l.9-8.7l.5 2.9l.3-2.7l.4 3.3l.7-8.9l.7-13.1l.4 2.8l.3-.9l.6 3.5l.3-6.5l.6 1.7l.3-5.1l.8-6.1l.5 1.6l.2 .3l.4 1.5l.4-3.9l.4 2.9l.5-5.9l.4-6.4l.4 3.8l.4-5.3l.8 4.2l.3-3.4l.5-2l.4-3l.6 9.2l.8-5.4l.2 6.2l.4-1.9l.4 4l.6-10.4l.4 4.7l.6-11.2l.8-8.7l.3 3.7l.3-3.2l.2 3l.8-7.6l.3-9.5l.5 6.2l.5-9.5l.2 4.2l.4-2.9l.5 4.6l.8-13.1l.6 9l.6-3.8l.9 12.4l.5-9.2l.7 1.5l.7-8.3l.3 8l.2-4.2l.4 7.9l.5 .7l.5-3.3l.4 .2l.4 7.4l.2-4.8l.3 7.3l.6-13.5l.7 6.9l.8-12.6l.5 17l.4-2.8l.2 1.4l.3-2.4l.3 9.5l.4-5.5l.3 10.8l.6-18.1l.7 8.5l.2-10.3l.4 4.9l.3-9l1.6 28l1.5 40.9l1.4-39.3l.7-4.2l.6 2.9l.6-6.4l.4 1.1l.5 1.3l.4 2.2l.4-3.6l.6 1.4l.6-3.5l.3-2.3l.3 .6l.4-3l.3 3l.5-5.9l.3 3.6l.8-5.6l.8 6.7l.5 1l.4-3.8l.4 .5l.6 9.2l.6-9.3l.4 5.2l.3-1.8l.4 1.5l.7-9.2l.6 .9l.9-3l.4 1.8l.4-4.5l.7 5.5l.3-3.4l.6 1.1l.5-2.9l.4 1.3l.6-7.2l.4 4.3l.4-7.1l.5 4l.6-2.3l.5 5l.2-9.3l.5 5.8l.3-6.8l.2 3.2l.4-1.4l.3 2.8l.7-1.4l.5 4.8l.4 6.6l.4-2.4l.3 7.8l1.6-21.6l.1 2.1l0 19.3l.5-22.5l.4-.8l.3-2.6l.4 .9l.8 2.6l.5 1.8l.3-4.7l.5 1.2l.5-10l.7 5.5l.4-8.3l.8 5.7l.3-2.6l.2 3.9l.4-4.2l.7 5.2l.8-14.4l.6 6.4l.3-6.2l.3 2.1l.4-6.3l.4 3.6l.3-1.2l.3 2.6l.6-2.1l.8 5.9l.4 2.8l.3-1.3l.2 3l.5-3.1l.5 3.9l.2-2.3l.4 3.3l.3-.4l.4 .5l.5 2.3l.3-1.5l.5 3.4l.3-2.9l.2 4.9l.4-2.6l.2 3.1l.5-1l.3 3.1l.7-6.6l.3 6.2l.5-4.9l.3 5.3l.6-7.2l.8 .3l.3-.1l.3 2.9l.4-.7l.6 .8l.3-5.3l.3 1.7l.3-6l.3 6.2l.4-5l.3 5.2l.5-9.6l.5-3.5l.5 2.1l.3-2.9l.3 3.9l.3-3l.3 2.2l.3-2.6l.3 .6l.4-4l.9 5.7l.3-2.9l.3 2.6l.3-2.3l.6 4.1l.9-5.7l.2-.7l.5 1l.2 .2l.6-6l.4-3.5l.4 1.7l.3-2.9l.4 1.9l.5-3.5l.4 2.7l.8-4.4l.5-6.2l.6 3.2l.5-8.2l.3-4l.6 2.6l.3-2.7l.3-.7l.3 3.8l.3-.7l.8-3.9l1.1 40.8l.9-43.2l.8 25.6l.4-60.9"/>
<path d="M126 69.1H1752V913.9H126ZM131.9 74.05V908.9H1746.05V74.05Z" fill="#000" fill-rule="evenodd"/>
<path d="M108.9 912.0H127M1751 912.0H1769.9M119 865.3H127M1751 865.3H1759.8M108.9 818.7H127M1751 818.7H1769.9M119 772.0H127M1751 772.0H1759.8M108.9 725.3H127M1751 725.3H1769.9M119 678.7H127M1751 678.7H1759.8M108.9 632.0H127M1751 632.0H1769.9M119 585.3H127M1751 585.3H1759.8M108.9 538.7H127M1751 538.7H1769.9M119 492.0H127M1751 492.0H1759.8M108.9 445.3H127M1751 445.3H1769.9M119 398.7H127M1751 398.7H1759.8M108.9 352.0H127M1751 352.0H1769.9M119 305.3H127M1751 305.3H1759.8M108.9 258.7H127M1751 258.7H1769.9M119 212.0H127M1751 212.0H1759.8M108.9 165.3H127M1751 165.3H1769.9M119 118.7H127M1751 118.7H1759.8M108.9 72.0H127M1751 72.0H1769.9" stroke="#000" stroke-width="2.1" fill="none"/>
<path d="M129 912V934.9M189 912V934.9M249 912V934.9M309 912V934.9M369 912V934.9M429 912V934.9M489 912V934.9M549 912V934.9M609 912V934.9M669 912V934.9M729 912V934.9M789 912V934.9M849 912V934.9M909 912V934.9M969 912V934.9M1029 912V934.9M1089 912V934.9M1149 912V934.9M1209 912V934.9M1269 912V934.9M1329 912V934.9M1389 912V934.9M1449 912V934.9M1509 912V934.9M1569 912V934.9M1629 912V934.9M1689 912V934.9M1749 912V934.9" stroke="#000" stroke-width="4" fill="none"/>
<text class="ser" x="102.6" y="921.1" text-anchor="end">3</text><text class="ser" x="1775.6" y="921.1">3</text>
<text class="ser" x="102.6" y="827.8" text-anchor="end">4</text><text class="ser" x="1775.6" y="827.8">4</text>
<text class="ser" x="102.6" y="734.4" text-anchor="end">5</text><text class="ser" x="1775.6" y="734.4">5</text>
<text class="ser" x="102.6" y="641.1" text-anchor="end">6</text><text class="ser" x="1775.6" y="641.1">6</text>
<text class="ser" x="102.6" y="547.8" text-anchor="end">7</text><text class="ser" x="1775.6" y="547.8">7</text>
<text class="ser" x="102.6" y="454.4" text-anchor="end">8</text><text class="ser" x="1775.6" y="454.4">8</text>
<text class="ser" x="102.6" y="361.1" text-anchor="end">9</text><text class="ser" x="1775.6" y="361.1">9</text>
<text class="ser" x="102.6" y="267.8" text-anchor="end">10</text><text class="ser" x="1775.6" y="267.8">10</text>
<text class="ser" x="102.6" y="174.4" text-anchor="end">11</text><text class="ser" x="1775.6" y="174.4">11</text>
<text class="ser" x="102.6" y="81.1" text-anchor="end">12</text><text class="ser" x="1775.6" y="81.1">12</text>
<text class="ser" x="158.7" y="946.3" text-anchor="middle">97</text>
<text class="ser" x="218.7" y="946.3" text-anchor="middle">98</text>
<text class="ser" x="278.7" y="946.3" text-anchor="middle">99</text>
<text class="ser" x="338.7" y="946.3" text-anchor="middle">00</text>
<text class="ser" x="398.7" y="946.3" text-anchor="middle">01</text>
<text class="ser" x="458.7" y="946.3" text-anchor="middle">02</text>
<text class="ser" x="518.7" y="946.3" text-anchor="middle">03</text>
<text class="ser" x="578.7" y="946.3" text-anchor="middle">04</text>
<text class="ser" x="638.7" y="946.3" text-anchor="middle">05</text>
<text class="ser" x="698.7" y="946.3" text-anchor="middle">06</text>
<text class="ser" x="758.7" y="946.3" text-anchor="middle">07</text>
<text class="ser" x="818.7" y="946.3" text-anchor="middle">08</text>
<text class="ser" x="878.7" y="946.3" text-anchor="middle">09</text>
<text class="ser" x="938.7" y="946.3" text-anchor="middle">10</text>
<text class="ser" x="998.7" y="946.3" text-anchor="middle">11</text>
<text class="ser" x="1058.7" y="946.3" text-anchor="middle">12</text>
<text class="ser" x="1118.7" y="946.3" text-anchor="middle">13</text>
<text class="ser" x="1178.7" y="946.3" text-anchor="middle">14</text>
<text class="ser" x="1238.7" y="946.3" text-anchor="middle">15</text>
<text class="ser" x="1298.7" y="946.3" text-anchor="middle">16</text>
<text class="ser" x="1358.7" y="946.3" text-anchor="middle">17</text>
<text class="ser" x="1418.7" y="946.3" text-anchor="middle">18</text>
<text class="ser" x="1478.7" y="946.3" text-anchor="middle">19</text>
<text class="ser" x="1538.7" y="946.3" text-anchor="middle">20</text>
<text class="ser" x="1598.7" y="946.3" text-anchor="middle">21</text>
<text class="ser" x="1658.7" y="946.3" text-anchor="middle">22</text>
<text class="ser" x="1718.7" y="946.3" text-anchor="middle">23</text>
<text class="san" x="143.8" y="51.0" font-size="33.4" font-weight="bold">Figure 10.</text>
<text class="san" x="147.0" y="106.8" font-size="33.56" font-weight="bold">STYLE RATIOS: US MSCI DIVIDED BY ALL COUNTRY WORLD EX US MSCI</text>
<text class="san" x="147" y="141" font-size="30.3">(daily)</text>
<text class="san" x="776.5" y="382.1" font-size="33.55" font-weight="bold">US MSCI / ACW ex-US</text>
<path d="M776 408H832" stroke="#ff0000" stroke-width="2"/>
<path d="M776 444.2H832" stroke="#0000ff" stroke-width="2"/>
<text class="san" x="849" y="417.7" font-size="30.1">In dollars</text>
<text class="san" x="849" y="453.9" font-size="30.1">In local currencies</text>
<text class="san" x="1528.6" y="133.7" font-size="26.6" fill="#ff0000" style="fill:#ff0000">3/13</text>
<text class="san" x="1528.8" y="389.4" font-size="26.6" fill="#0000ff" style="fill:#0000ff">3/13</text>
<text x="1736.4" y="900.8" text-anchor="end" font-family="Liberation Serif,serif" font-size="26.6" letter-spacing="1.1" font-style="italic" font-weight="bold">yardeni.com</text>
<text class="ser" x="129" y="1004.8" style="font-size:26.7px">Source: MSCI.</text>
</svg></body></html>
